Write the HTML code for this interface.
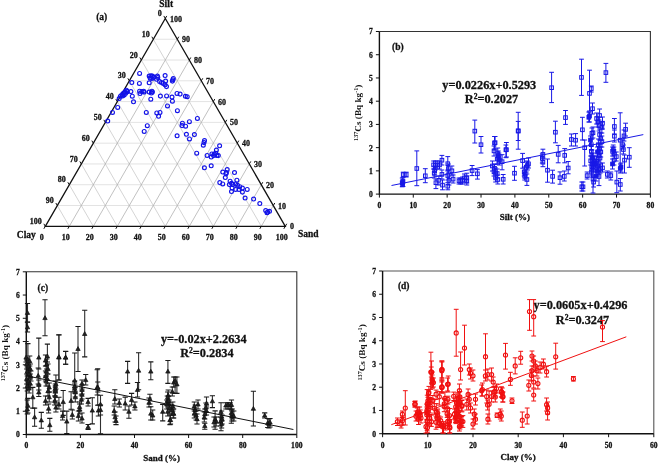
<!DOCTYPE html>
<html><head><meta charset="utf-8"><style>
html,body{margin:0;padding:0;background:#fff;width:658px;height:464px;overflow:hidden}
svg{display:block;filter:blur(0.3px)}
text{stroke:#111;stroke-width:0.28px}
</style></head><body>
<svg width="658" height="464" viewBox="0 0 658 464">
<rect width="658" height="464" fill="#fff"/>
<g stroke="#dadada" stroke-width="0.75">
<line x1="57.30" y1="205.52" x2="273.30" y2="205.52"/>
<line x1="69.30" y1="184.73" x2="261.30" y2="184.73"/>
<line x1="81.30" y1="163.95" x2="249.30" y2="163.95"/>
<line x1="93.30" y1="143.16" x2="237.30" y2="143.16"/>
<line x1="105.30" y1="122.38" x2="225.30" y2="122.38"/>
<line x1="117.30" y1="101.59" x2="213.30" y2="101.59"/>
<line x1="129.30" y1="80.81" x2="201.30" y2="80.81"/>
<line x1="141.30" y1="60.02" x2="189.30" y2="60.02"/>
<line x1="153.30" y1="39.24" x2="177.30" y2="39.24"/>
</g>
<g stroke="#c6c6c6" stroke-width="0.75">
<line x1="153.30" y1="39.24" x2="261.30" y2="226.30"/>
<line x1="141.30" y1="60.02" x2="237.30" y2="226.30"/>
<line x1="129.30" y1="80.81" x2="213.30" y2="226.30"/>
<line x1="117.30" y1="101.59" x2="189.30" y2="226.30"/>
<line x1="105.30" y1="122.38" x2="165.30" y2="226.30"/>
<line x1="93.30" y1="143.16" x2="141.30" y2="226.30"/>
<line x1="81.30" y1="163.95" x2="117.30" y2="226.30"/>
<line x1="69.30" y1="184.73" x2="93.30" y2="226.30"/>
<line x1="57.30" y1="205.52" x2="69.30" y2="226.30"/>
</g>
<g stroke="#acacac" stroke-width="0.75">
<line x1="69.30" y1="226.30" x2="177.30" y2="39.24"/>
<line x1="93.30" y1="226.30" x2="189.30" y2="60.02"/>
<line x1="117.30" y1="226.30" x2="201.30" y2="80.81"/>
<line x1="141.30" y1="226.30" x2="213.30" y2="101.59"/>
<line x1="165.30" y1="226.30" x2="225.30" y2="122.38"/>
<line x1="189.30" y1="226.30" x2="237.30" y2="143.16"/>
<line x1="213.30" y1="226.30" x2="249.30" y2="163.95"/>
<line x1="237.30" y1="226.30" x2="261.30" y2="184.73"/>
<line x1="261.30" y1="226.30" x2="273.30" y2="205.52"/>
</g>
<path d="M45.3,226.3 L285.3,226.3 L165.30,18.45 Z" fill="none" stroke="#111" stroke-width="1.3"/>
<g stroke="#111" stroke-width="1">
<line x1="45.30" y1="226.30" x2="43.85" y2="228.81"/>
<line x1="165.30" y1="18.45" x2="163.85" y2="15.94"/>
<line x1="285.30" y1="226.30" x2="286.75" y2="223.79"/>
<line x1="69.30" y1="226.30" x2="67.85" y2="228.81"/>
<line x1="153.30" y1="39.24" x2="151.85" y2="36.73"/>
<line x1="273.30" y1="205.52" x2="274.75" y2="203.00"/>
<line x1="93.30" y1="226.30" x2="91.85" y2="228.81"/>
<line x1="141.30" y1="60.02" x2="139.85" y2="57.51"/>
<line x1="261.30" y1="184.73" x2="262.75" y2="182.22"/>
<line x1="117.30" y1="226.30" x2="115.85" y2="228.81"/>
<line x1="129.30" y1="80.81" x2="127.85" y2="78.30"/>
<line x1="249.30" y1="163.95" x2="250.75" y2="161.43"/>
<line x1="141.30" y1="226.30" x2="139.85" y2="228.81"/>
<line x1="117.30" y1="101.59" x2="115.85" y2="99.08"/>
<line x1="237.30" y1="143.16" x2="238.75" y2="140.65"/>
<line x1="165.30" y1="226.30" x2="163.85" y2="228.81"/>
<line x1="105.30" y1="122.38" x2="103.85" y2="119.87"/>
<line x1="225.30" y1="122.38" x2="226.75" y2="119.87"/>
<line x1="189.30" y1="226.30" x2="187.85" y2="228.81"/>
<line x1="93.30" y1="143.16" x2="91.85" y2="140.65"/>
<line x1="213.30" y1="101.59" x2="214.75" y2="99.08"/>
<line x1="213.30" y1="226.30" x2="211.85" y2="228.81"/>
<line x1="81.30" y1="163.95" x2="79.85" y2="161.43"/>
<line x1="201.30" y1="80.81" x2="202.75" y2="78.30"/>
<line x1="237.30" y1="226.30" x2="235.85" y2="228.81"/>
<line x1="69.30" y1="184.73" x2="67.85" y2="182.22"/>
<line x1="189.30" y1="60.02" x2="190.75" y2="57.51"/>
<line x1="261.30" y1="226.30" x2="259.85" y2="228.81"/>
<line x1="57.30" y1="205.52" x2="55.85" y2="203.00"/>
<line x1="177.30" y1="39.24" x2="178.75" y2="36.73"/>
<line x1="285.30" y1="226.30" x2="283.85" y2="228.81"/>
<line x1="45.30" y1="226.30" x2="43.85" y2="223.79"/>
<line x1="165.30" y1="18.45" x2="166.75" y2="15.94"/>
</g>
<g font-family="'Liberation Serif', serif" font-weight="bold" font-size="8" fill="#111">
<text x="41.80" y="239.80" text-anchor="middle">0</text>
<text x="161.70" y="16.05" text-anchor="end">0</text>
<text x="290.10" y="229.40" text-anchor="start">0</text>
<text x="65.80" y="239.80" text-anchor="middle">10</text>
<text x="149.70" y="36.84" text-anchor="end">10</text>
<text x="278.10" y="208.62" text-anchor="start">10</text>
<text x="89.80" y="239.80" text-anchor="middle">20</text>
<text x="137.70" y="57.62" text-anchor="end">20</text>
<text x="266.10" y="187.83" text-anchor="start">20</text>
<text x="113.80" y="239.80" text-anchor="middle">30</text>
<text x="125.70" y="78.41" text-anchor="end">30</text>
<text x="254.10" y="167.05" text-anchor="start">30</text>
<text x="137.80" y="239.80" text-anchor="middle">40</text>
<text x="113.70" y="99.19" text-anchor="end">40</text>
<text x="242.10" y="146.26" text-anchor="start">40</text>
<text x="161.80" y="239.80" text-anchor="middle">50</text>
<text x="101.70" y="119.98" text-anchor="end">50</text>
<text x="230.10" y="125.48" text-anchor="start">50</text>
<text x="185.80" y="239.80" text-anchor="middle">60</text>
<text x="89.70" y="140.76" text-anchor="end">60</text>
<text x="218.10" y="104.69" text-anchor="start">60</text>
<text x="209.80" y="239.80" text-anchor="middle">70</text>
<text x="77.70" y="161.55" text-anchor="end">70</text>
<text x="206.10" y="83.91" text-anchor="start">70</text>
<text x="233.80" y="239.80" text-anchor="middle">80</text>
<text x="65.70" y="182.33" text-anchor="end">80</text>
<text x="194.10" y="63.12" text-anchor="start">80</text>
<text x="257.80" y="239.80" text-anchor="middle">90</text>
<text x="53.70" y="203.12" text-anchor="end">90</text>
<text x="182.10" y="42.34" text-anchor="start">90</text>
<text x="281.80" y="239.80" text-anchor="middle">100</text>
<text x="41.70" y="223.90" text-anchor="end">100</text>
<text x="170.10" y="21.55" text-anchor="start">100</text>
</g>
<g font-family="'Liberation Serif', serif" font-weight="bold" font-size="9.5" fill="#111">
<text x="166.2" y="7.2" text-anchor="middle">Silt</text>
<text x="16.8" y="238">Clay</text>
<text x="298" y="236.9">Sand</text>
</g>
<text x="96.2" y="19.6" font-family="'Liberation Serif', serif" font-weight="bold" font-size="9.5" fill="#111">(a)</text>
<g fill="none" stroke="#1212e8" stroke-width="1.15">
<circle cx="139.6" cy="73.4" r="1.95"/>
<circle cx="149.2" cy="76.1" r="1.95"/>
<circle cx="151" cy="75.7" r="1.95"/>
<circle cx="152.4" cy="76.1" r="1.95"/>
<circle cx="153.7" cy="77" r="1.95"/>
<circle cx="150.1" cy="78" r="1.95"/>
<circle cx="151.9" cy="78.4" r="1.95"/>
<circle cx="153.3" cy="77.5" r="1.95"/>
<circle cx="157.4" cy="76.1" r="1.95"/>
<circle cx="157.8" cy="77.5" r="1.95"/>
<circle cx="156.5" cy="79.3" r="1.95"/>
<circle cx="165.1" cy="75.5" r="1.95"/>
<circle cx="173.3" cy="78.4" r="1.95"/>
<circle cx="172.4" cy="81.1" r="1.95"/>
<circle cx="172.9" cy="79.8" r="1.95"/>
<circle cx="131.8" cy="82.5" r="1.95"/>
<circle cx="139.4" cy="83.4" r="1.95"/>
<circle cx="149.2" cy="82.8" r="1.95"/>
<circle cx="159.6" cy="81.6" r="1.95"/>
<circle cx="161.5" cy="82.5" r="1.95"/>
<circle cx="163.3" cy="83.4" r="1.95"/>
<circle cx="165.1" cy="84.8" r="1.95"/>
<circle cx="166.5" cy="86.6" r="1.95"/>
<circle cx="165.6" cy="81" r="1.95"/>
<circle cx="126.4" cy="90.2" r="1.95"/>
<circle cx="124.9" cy="92" r="1.95"/>
<circle cx="123.4" cy="93.2" r="1.95"/>
<circle cx="121.9" cy="94.7" r="1.95"/>
<circle cx="120.4" cy="96.2" r="1.95"/>
<circle cx="119.2" cy="98.5" r="1.95"/>
<circle cx="127.2" cy="91.7" r="1.95"/>
<circle cx="125.7" cy="93.2" r="1.95"/>
<circle cx="124.2" cy="95" r="1.95"/>
<circle cx="122.6" cy="95.9" r="1.95"/>
<circle cx="126.8" cy="91.2" r="1.95"/>
<circle cx="130.9" cy="91.6" r="1.95"/>
<circle cx="132.3" cy="96.2" r="1.95"/>
<circle cx="133.5" cy="101.8" r="1.95"/>
<circle cx="139.6" cy="91.2" r="1.95"/>
<circle cx="140" cy="93.5" r="1.95"/>
<circle cx="141.9" cy="91.6" r="1.95"/>
<circle cx="143.7" cy="91.2" r="1.95"/>
<circle cx="144.1" cy="92.1" r="1.95"/>
<circle cx="149.2" cy="92.1" r="1.95"/>
<circle cx="151.9" cy="91.2" r="1.95"/>
<circle cx="152.4" cy="92.1" r="1.95"/>
<circle cx="151.4" cy="93" r="1.95"/>
<circle cx="150.8" cy="99.2" r="1.95"/>
<circle cx="160.4" cy="96.1" r="1.95"/>
<circle cx="166.6" cy="95.9" r="1.95"/>
<circle cx="172" cy="97.1" r="1.95"/>
<circle cx="172.4" cy="101.2" r="1.95"/>
<circle cx="177" cy="93.4" r="1.95"/>
<circle cx="180.1" cy="94.1" r="1.95"/>
<circle cx="185.4" cy="96.3" r="1.95"/>
<circle cx="187.2" cy="96.7" r="1.95"/>
<circle cx="117.7" cy="107.4" r="1.95"/>
<circle cx="112.5" cy="112.4" r="1.95"/>
<circle cx="107.7" cy="121" r="1.95"/>
<circle cx="146.3" cy="112.4" r="1.95"/>
<circle cx="156.8" cy="112.9" r="1.95"/>
<circle cx="160" cy="112.4" r="1.95"/>
<circle cx="158.6" cy="116.3" r="1.95"/>
<circle cx="167.5" cy="105.9" r="1.95"/>
<circle cx="177.4" cy="110.7" r="1.95"/>
<circle cx="147.3" cy="125.7" r="1.95"/>
<circle cx="144.2" cy="131.4" r="1.95"/>
<circle cx="182.4" cy="123.2" r="1.95"/>
<circle cx="182" cy="125.6" r="1.95"/>
<circle cx="185.6" cy="126.2" r="1.95"/>
<circle cx="189.4" cy="121.7" r="1.95"/>
<circle cx="197.4" cy="118.4" r="1.95"/>
<circle cx="177.1" cy="135.8" r="1.95"/>
<circle cx="186.4" cy="134.3" r="1.95"/>
<circle cx="189.5" cy="138.9" r="1.95"/>
<circle cx="194.4" cy="134.6" r="1.95"/>
<circle cx="204.5" cy="140.6" r="1.95"/>
<circle cx="204" cy="142.6" r="1.95"/>
<circle cx="203.3" cy="145.2" r="1.95"/>
<circle cx="219.6" cy="145.8" r="1.95"/>
<circle cx="216.4" cy="150" r="1.95"/>
<circle cx="196.7" cy="153.2" r="1.95"/>
<circle cx="207.1" cy="155.4" r="1.95"/>
<circle cx="211.2" cy="157" r="1.95"/>
<circle cx="211.9" cy="153.9" r="1.95"/>
<circle cx="214.2" cy="154.1" r="1.95"/>
<circle cx="215.7" cy="153.3" r="1.95"/>
<circle cx="216.9" cy="155.4" r="1.95"/>
<circle cx="218.3" cy="155.6" r="1.95"/>
<circle cx="213.6" cy="155.6" r="1.95"/>
<circle cx="204.4" cy="167.8" r="1.95"/>
<circle cx="211.2" cy="165.8" r="1.95"/>
<circle cx="222.8" cy="172" r="1.95"/>
<circle cx="227.2" cy="169.5" r="1.95"/>
<circle cx="226.4" cy="172.5" r="1.95"/>
<circle cx="234.5" cy="172.5" r="1.95"/>
<circle cx="226" cy="173.8" r="1.95"/>
<circle cx="225.3" cy="177.5" r="1.95"/>
<circle cx="219.8" cy="182.6" r="1.95"/>
<circle cx="222.7" cy="183.9" r="1.95"/>
<circle cx="230.1" cy="181.2" r="1.95"/>
<circle cx="231.5" cy="183.3" r="1.95"/>
<circle cx="232.8" cy="184.6" r="1.95"/>
<circle cx="229.4" cy="184.6" r="1.95"/>
<circle cx="236.9" cy="180.2" r="1.95"/>
<circle cx="235.6" cy="183.9" r="1.95"/>
<circle cx="239.7" cy="186.7" r="1.95"/>
<circle cx="237.6" cy="185.3" r="1.95"/>
<circle cx="232.1" cy="188" r="1.95"/>
<circle cx="231.5" cy="191.5" r="1.95"/>
<circle cx="235.6" cy="189.4" r="1.95"/>
<circle cx="239" cy="189.4" r="1.95"/>
<circle cx="242.4" cy="188" r="1.95"/>
<circle cx="242.4" cy="192.1" r="1.95"/>
<circle cx="247.2" cy="189.4" r="1.95"/>
<circle cx="245.1" cy="198" r="1.95"/>
<circle cx="253.6" cy="199" r="1.95"/>
<circle cx="259.8" cy="203.5" r="1.95"/>
<circle cx="265.7" cy="210.6" r="1.95"/>
<circle cx="267.7" cy="212" r="1.95"/>
<circle cx="269.5" cy="211.3" r="1.95"/>
<circle cx="267" cy="212.7" r="1.95"/>
</g>
<path d="M379.4,31.5 L650.4,31.5 L650.4,194.1" fill="none" stroke="#333" stroke-width="1.1"/>
<path d="M379.4,31.5 L379.4,194.1 L650.4,194.1" fill="none" stroke="#111" stroke-width="1.4"/>
<g stroke="#111" stroke-width="1">
<line x1="375.9" y1="194.10" x2="379.4" y2="194.10"/>
<line x1="375.9" y1="170.87" x2="379.4" y2="170.87"/>
<line x1="375.9" y1="147.64" x2="379.4" y2="147.64"/>
<line x1="375.9" y1="124.41" x2="379.4" y2="124.41"/>
<line x1="375.9" y1="101.19" x2="379.4" y2="101.19"/>
<line x1="375.9" y1="77.96" x2="379.4" y2="77.96"/>
<line x1="375.9" y1="54.73" x2="379.4" y2="54.73"/>
<line x1="375.9" y1="31.50" x2="379.4" y2="31.50"/>
<line x1="379.40" y1="194.1" x2="379.40" y2="197.6"/>
<line x1="413.27" y1="194.1" x2="413.27" y2="197.6"/>
<line x1="447.15" y1="194.1" x2="447.15" y2="197.6"/>
<line x1="481.02" y1="194.1" x2="481.02" y2="197.6"/>
<line x1="514.90" y1="194.1" x2="514.90" y2="197.6"/>
<line x1="548.77" y1="194.1" x2="548.77" y2="197.6"/>
<line x1="582.65" y1="194.1" x2="582.65" y2="197.6"/>
<line x1="616.52" y1="194.1" x2="616.52" y2="197.6"/>
<line x1="650.40" y1="194.1" x2="650.40" y2="197.6"/>
</g>
<g font-family="'Liberation Serif', serif" font-weight="bold" font-size="7.6" fill="#111">
<text x="372.9" y="197.00" text-anchor="end">0</text>
<text x="372.9" y="173.77" text-anchor="end">1</text>
<text x="372.9" y="150.54" text-anchor="end">2</text>
<text x="372.9" y="127.31" text-anchor="end">3</text>
<text x="372.9" y="104.09" text-anchor="end">4</text>
<text x="372.9" y="80.86" text-anchor="end">5</text>
<text x="372.9" y="57.63" text-anchor="end">6</text>
<text x="372.9" y="34.40" text-anchor="end">7</text>
<text x="379.40" y="207.9" text-anchor="middle">0</text>
<text x="413.27" y="207.9" text-anchor="middle">10</text>
<text x="447.15" y="207.9" text-anchor="middle">20</text>
<text x="481.02" y="207.9" text-anchor="middle">30</text>
<text x="514.90" y="207.9" text-anchor="middle">40</text>
<text x="548.77" y="207.9" text-anchor="middle">50</text>
<text x="582.65" y="207.9" text-anchor="middle">60</text>
<text x="616.52" y="207.9" text-anchor="middle">70</text>
<text x="650.40" y="207.9" text-anchor="middle">80</text>
</g>
<text x="514.9" y="220.1" text-anchor="middle" font-family="'Liberation Serif', serif" font-weight="bold" font-size="9" fill="#111">Silt (%)</text>
<text transform="translate(361.3,112.8) rotate(-90)" text-anchor="middle" style="stroke:none" font-family="'Liberation Serif', serif" font-weight="bold" font-size="9.2" fill="#111"><tspan font-size="6.2" dy="-3.4">137</tspan><tspan dy="3.4">Cs (Bq kg</tspan><tspan font-size="6.2" dy="-3.4">-1</tspan><tspan dy="3.4">)</tspan></text>
<text x="392" y="49.5" font-family="'Liberation Serif', serif" font-weight="bold" font-size="9.5" fill="#111">(b)</text>
<text x="489.3" y="88.7" text-anchor="middle" font-family="'Liberation Serif', serif" font-weight="bold" font-size="12.3" fill="#111">y=0.0226x+0.5293</text>
<text x="491.5" y="103.3" text-anchor="middle" font-family="'Liberation Serif', serif" font-weight="bold" font-size="12.3" fill="#111">R<tspan font-size="7.6" dy="-4.3">2</tspan><tspan dy="4.3">=0.2027</tspan></text>
<g stroke="#1818e6" stroke-width="1" fill="none">
<path d="M403.2,172.2 V177.0 M400.8,172.2 h4.8 M400.8,177.0 h4.8"/>
<path d="M406.2,172.2 V177.0 M403.8,172.2 h4.8 M403.8,177.0 h4.8"/>
<path d="M402.2,178.0 V186.8 M399.8,178.0 h4.8 M399.8,186.8 h4.8"/>
<path d="M403.0,177.7 V186.5 M400.6,177.7 h4.8 M400.6,186.5 h4.8"/>
<path d="M402.6,180 V186.5 M400.20000000000005,180 h4.8 M400.20000000000005,186.5 h4.8"/>
<path d="M416.8,150.9 V185.7 M414.40000000000003,150.9 h4.8 M414.40000000000003,185.7 h4.8"/>
<path d="M425.3,168.7 V182.7 M422.90000000000003,168.7 h4.8 M422.90000000000003,182.7 h4.8"/>
<path d="M433.6,161 V169 M431.20000000000005,161 h4.8 M431.20000000000005,169 h4.8"/>
<path d="M435.3,161 V170 M432.90000000000003,161 h4.8 M432.90000000000003,170 h4.8"/>
<path d="M437.1,161 V169 M434.70000000000005,161 h4.8 M434.70000000000005,169 h4.8"/>
<path d="M439.5,161 V169 M437.1,161 h4.8 M437.1,169 h4.8"/>
<path d="M434.7,166 V175 M432.3,166 h4.8 M432.3,175 h4.8"/>
<path d="M434.2,169 V178 M431.8,169 h4.8 M431.8,178 h4.8"/>
<path d="M435.9,179.1 V188.6 M433.5,179.1 h4.8 M433.5,188.6 h4.8"/>
<path d="M438.9,176 V185 M436.5,176 h4.8 M436.5,185 h4.8"/>
<path d="M441.9,155.4 V165 M439.5,155.4 h4.8 M439.5,165 h4.8"/>
<path d="M441.9,170 V179 M439.5,170 h4.8 M439.5,179 h4.8"/>
<path d="M442.5,180 V189.8 M440.1,180 h4.8 M440.1,189.8 h4.8"/>
<path d="M447.8,156.6 V170 M445.40000000000003,156.6 h4.8 M445.40000000000003,170 h4.8"/>
<path d="M448.4,164 V173 M446.0,164 h4.8 M446.0,173 h4.8"/>
<path d="M447.8,171 V180 M445.40000000000003,171 h4.8 M445.40000000000003,180 h4.8"/>
<path d="M449,176 V185 M446.6,176 h4.8 M446.6,185 h4.8"/>
<path d="M447.8,182.7 V189.8 M445.40000000000003,182.7 h4.8 M445.40000000000003,189.8 h4.8"/>
<path d="M451.9,166 V175 M449.5,166 h4.8 M449.5,175 h4.8"/>
<path d="M453.1,175 V183 M450.70000000000005,175 h4.8 M450.70000000000005,183 h4.8"/>
<path d="M459,178 V184 M456.6,178 h4.8 M456.6,184 h4.8"/>
<path d="M460.8,178 V184 M458.40000000000003,178 h4.8 M458.40000000000003,184 h4.8"/>
<path d="M462.6,177 V184 M460.20000000000005,177 h4.8 M460.20000000000005,184 h4.8"/>
<path d="M464.4,174 V182 M462.0,174 h4.8 M462.0,182 h4.8"/>
<path d="M466.8,173.2 V183 M464.40000000000003,173.2 h4.8 M464.40000000000003,183 h4.8"/>
<path d="M466.8,176 V185 M464.40000000000003,176 h4.8 M464.40000000000003,185 h4.8"/>
<path d="M472.1,165.5 V175.6 M469.70000000000005,165.5 h4.8 M469.70000000000005,175.6 h4.8"/>
<path d="M477.4,169.6 V179.1 M475.0,169.6 h4.8 M475.0,179.1 h4.8"/>
<path d="M481,136.5 V153 M478.6,136.5 h4.8 M478.6,153 h4.8"/>
<path d="M474.8,120.1 V143 M472.40000000000003,120.1 h4.8 M472.40000000000003,143 h4.8"/>
<path d="M494.5,136.5 V150 M492.1,136.5 h4.8 M492.1,150 h4.8"/>
<path d="M495.1,136.5 V149 M492.70000000000005,136.5 h4.8 M492.70000000000005,149 h4.8"/>
<path d="M518.2,112.3 V149.2 M515.8000000000001,112.3 h4.8 M515.8000000000001,149.2 h4.8"/>
<path d="M518.2,121.4 V140.5 M515.8000000000001,121.4 h4.8 M515.8000000000001,140.5 h4.8"/>
<path d="M506.4,142.5 V157 M504.0,142.5 h4.8 M504.0,157 h4.8"/>
<path d="M494,146 V156 M491.6,146 h4.8 M491.6,156 h4.8"/>
<path d="M497.8,148 V158 M495.40000000000003,148 h4.8 M495.40000000000003,158 h4.8"/>
<path d="M498.3,151 V160 M495.90000000000003,151 h4.8 M495.90000000000003,160 h4.8"/>
<path d="M498.9,153 V162 M496.5,153 h4.8 M496.5,162 h4.8"/>
<path d="M497.2,154 V164 M494.8,154 h4.8 M494.8,164 h4.8"/>
<path d="M499.4,155 V165 M497.0,155 h4.8 M497.0,165 h4.8"/>
<path d="M492.4,161 V171 M490.0,161 h4.8 M490.0,171 h4.8"/>
<path d="M494.5,164 V173 M492.1,164 h4.8 M492.1,173 h4.8"/>
<path d="M494,167 V176 M491.6,167 h4.8 M491.6,176 h4.8"/>
<path d="M495.6,168 V178 M493.20000000000005,168 h4.8 M493.20000000000005,178 h4.8"/>
<path d="M497.2,169 V178 M494.8,169 h4.8 M494.8,178 h4.8"/>
<path d="M495.6,173 V182 M493.20000000000005,173 h4.8 M493.20000000000005,182 h4.8"/>
<path d="M497.8,175 V184 M495.40000000000003,175 h4.8 M495.40000000000003,184 h4.8"/>
<path d="M503.2,174.5 V184 M500.8,174.5 h4.8 M500.8,184 h4.8"/>
<path d="M502.1,154.7 V169.8 M499.70000000000005,154.7 h4.8 M499.70000000000005,169.8 h4.8"/>
<path d="M505.9,145 V157.7 M503.5,145 h4.8 M503.5,157.7 h4.8"/>
<path d="M514.5,166.3 V180.3 M512.1,166.3 h4.8 M512.1,180.3 h4.8"/>
<path d="M522.6,153.4 V168.2 M520.2,153.4 h4.8 M520.2,168.2 h4.8"/>
<path d="M527.4,161 V170 M525.0,161 h4.8 M525.0,170 h4.8"/>
<path d="M526.3,162 V172 M523.9,162 h4.8 M523.9,172 h4.8"/>
<path d="M528.5,158 V168 M526.1,158 h4.8 M526.1,168 h4.8"/>
<path d="M524.2,167 V176 M521.8000000000001,167 h4.8 M521.8000000000001,176 h4.8"/>
<path d="M525.2,170 V178 M522.8000000000001,170 h4.8 M522.8000000000001,178 h4.8"/>
<path d="M524.7,172 V180 M522.3000000000001,172 h4.8 M522.3000000000001,180 h4.8"/>
<path d="M526.9,174 V185.4 M524.5,174 h4.8 M524.5,185.4 h4.8"/>
<path d="M542.9,149.2 V158 M540.5,149.2 h4.8 M540.5,158 h4.8"/>
<path d="M542.3,154 V163 M539.9,154 h4.8 M539.9,163 h4.8"/>
<path d="M542.9,158 V166.7 M540.5,158 h4.8 M540.5,166.7 h4.8"/>
<path d="M547.5,159 V182.2 M545.1,159 h4.8 M545.1,182.2 h4.8"/>
<path d="M552.6,170.2 V183.1 M550.2,170.2 h4.8 M550.2,183.1 h4.8"/>
<path d="M558.2,145.4 V162.8 M555.8000000000001,145.4 h4.8 M555.8000000000001,162.8 h4.8"/>
<path d="M564.7,148.6 V162.8 M562.3000000000001,148.6 h4.8 M562.3000000000001,162.8 h4.8"/>
<path d="M560,171.9 V184.2 M557.6,171.9 h4.8 M557.6,184.2 h4.8"/>
<path d="M564.3,171 V181 M561.9,171 h4.8 M561.9,181 h4.8"/>
<path d="M568.2,161.5 V173.8 M565.8000000000001,161.5 h4.8 M565.8000000000001,173.8 h4.8"/>
<path d="M555.4,121.2 V142.8 M553.0,121.2 h4.8 M553.0,142.8 h4.8"/>
<path d="M571.4,134 V146 M569.0,134 h4.8 M569.0,146 h4.8"/>
<path d="M575.6,133.6 V146 M573.2,133.6 h4.8 M573.2,146 h4.8"/>
<path d="M581.8,182 V191 M579.4,182 h4.8 M579.4,191 h4.8"/>
<path d="M551.6,72.3 V102.6 M549.2,72.3 h4.8 M549.2,102.6 h4.8"/>
<path d="M581.5,59.2 V95.4 M579.1,59.2 h4.8 M579.1,95.4 h4.8"/>
<path d="M589.5,70.2 V111 M587.1,70.2 h4.8 M587.1,111 h4.8"/>
<path d="M591.3,86 V92 M588.9,86 h4.8 M588.9,92 h4.8"/>
<path d="M605.9,63.4 V82.3 M603.5,63.4 h4.8 M603.5,82.3 h4.8"/>
<path d="M592.5,103 V114 M590.1,103 h4.8 M590.1,114 h4.8"/>
<path d="M588.8,112 V122 M586.4,112 h4.8 M586.4,122 h4.8"/>
<path d="M589.5,112 V122 M587.1,112 h4.8 M587.1,122 h4.8"/>
<path d="M565.5,110.5 V124.4 M563.1,110.5 h4.8 M563.1,124.4 h4.8"/>
<path d="M582.4,117.3 V140 M580.0,117.3 h4.8 M580.0,140 h4.8"/>
<path d="M599.6,109 V122 M597.2,109 h4.8 M597.2,122 h4.8"/>
<path d="M596.6,113 V124 M594.2,113 h4.8 M594.2,124 h4.8"/>
<path d="M597.8,117 V127 M595.4,117 h4.8 M595.4,127 h4.8"/>
<path d="M599,120 V131 M596.6,120 h4.8 M596.6,131 h4.8"/>
<path d="M601.9,122 V133 M599.5,122 h4.8 M599.5,133 h4.8"/>
<path d="M602.5,117 V129 M600.1,117 h4.8 M600.1,129 h4.8"/>
<path d="M591.9,128 V139 M589.5,128 h4.8 M589.5,139 h4.8"/>
<path d="M593,127 V138 M590.6,127 h4.8 M590.6,138 h4.8"/>
<path d="M599.6,129 V140 M597.2,129 h4.8 M597.2,140 h4.8"/>
<path d="M600.8,133 V144 M598.4,133 h4.8 M598.4,144 h4.8"/>
<path d="M601.9,136 V147 M599.5,136 h4.8 M599.5,147 h4.8"/>
<path d="M614.4,118.5 V134 M612.0,118.5 h4.8 M612.0,134 h4.8"/>
<path d="M614.4,130 V142 M612.0,130 h4.8 M612.0,142 h4.8"/>
<path d="M620.2,112.8 V168 M617.8000000000001,112.8 h4.8 M617.8000000000001,168 h4.8"/>
<path d="M625.6,123.2 V136 M623.2,123.2 h4.8 M623.2,136 h4.8"/>
<path d="M624,130 V141 M621.6,130 h4.8 M621.6,141 h4.8"/>
<path d="M584.7,140 V166 M582.3000000000001,140 h4.8 M582.3000000000001,166 h4.8"/>
<path d="M591.3,139 V150 M588.9,139 h4.8 M588.9,150 h4.8"/>
<path d="M591.3,146 V156 M588.9,146 h4.8 M588.9,156 h4.8"/>
<path d="M591.9,150 V160 M589.5,150 h4.8 M589.5,160 h4.8"/>
<path d="M590.7,156 V165 M588.3000000000001,156 h4.8 M588.3000000000001,165 h4.8"/>
<path d="M591.9,159 V168 M589.5,159 h4.8 M589.5,168 h4.8"/>
<path d="M593,162 V172 M590.6,162 h4.8 M590.6,172 h4.8"/>
<path d="M591.9,166 V175 M589.5,166 h4.8 M589.5,175 h4.8"/>
<path d="M594.2,156 V166 M591.8000000000001,156 h4.8 M591.8000000000001,166 h4.8"/>
<path d="M595.4,159 V168 M593.0,159 h4.8 M593.0,168 h4.8"/>
<path d="M596.6,156 V166 M594.2,156 h4.8 M594.2,166 h4.8"/>
<path d="M597.8,161 V171 M595.4,161 h4.8 M595.4,171 h4.8"/>
<path d="M599,165 V174 M596.6,165 h4.8 M596.6,174 h4.8"/>
<path d="M600.2,164 V173 M597.8000000000001,164 h4.8 M597.8000000000001,173 h4.8"/>
<path d="M602.5,163 V172 M600.1,163 h4.8 M600.1,172 h4.8"/>
<path d="M598.4,139 V150 M596.0,139 h4.8 M596.0,150 h4.8"/>
<path d="M599.6,144 V154 M597.2,144 h4.8 M597.2,154 h4.8"/>
<path d="M600.8,147 V157 M598.4,147 h4.8 M598.4,157 h4.8"/>
<path d="M599,151 V161 M596.6,151 h4.8 M596.6,161 h4.8"/>
<path d="M587.1,172 V179 M584.7,172 h4.8 M584.7,179 h4.8"/>
<path d="M593,175 V193 M590.6,175 h4.8 M590.6,193 h4.8"/>
<path d="M593.6,177 V187 M591.2,177 h4.8 M591.2,187 h4.8"/>
<path d="M599,171 V185.6 M596.6,171 h4.8 M596.6,185.6 h4.8"/>
<path d="M583,182 V191 M580.6,182 h4.8 M580.6,191 h4.8"/>
<path d="M607.3,171 V178 M604.9,171 h4.8 M604.9,178 h4.8"/>
<path d="M610.8,172 V180 M608.4,172 h4.8 M608.4,180 h4.8"/>
<path d="M613.9,147 V156 M611.5,147 h4.8 M611.5,156 h4.8"/>
<path d="M612.6,147 V156 M610.2,147 h4.8 M610.2,156 h4.8"/>
<path d="M613.2,145 V154 M610.8000000000001,145 h4.8 M610.8000000000001,154 h4.8"/>
<path d="M616.3,152 V161 M613.9,152 h4.8 M613.9,161 h4.8"/>
<path d="M616.8,171 V192.7 M614.4,171 h4.8 M614.4,192.7 h4.8"/>
<path d="M620.3,178.5 V191 M617.9,178.5 h4.8 M617.9,191 h4.8"/>
<path d="M620.4,164 V173 M618.0,164 h4.8 M618.0,173 h4.8"/>
<path d="M621,163 V172 M618.6,163 h4.8 M618.6,172 h4.8"/>
<path d="M622.8,140 V149 M620.4,140 h4.8 M620.4,149 h4.8"/>
<path d="M623.4,145 V154 M621.0,145 h4.8 M621.0,154 h4.8"/>
<path d="M624.5,155 V173 M622.1,155 h4.8 M622.1,173 h4.8"/>
<path d="M629.3,147.7 V167.3 M626.9,147.7 h4.8 M626.9,167.3 h4.8"/>
<path d="M592.5,153 V163 M590.1,153 h4.8 M590.1,163 h4.8"/>
<path d="M593.5,159 V169 M591.1,159 h4.8 M591.1,169 h4.8"/>
<path d="M597,166 V176 M594.6,166 h4.8 M594.6,176 h4.8"/>
<path d="M591.5,167 V177 M589.1,167 h4.8 M589.1,177 h4.8"/>
<path d="M596,171 V181 M593.6,171 h4.8 M593.6,181 h4.8"/>
<path d="M600,153 V163 M597.6,153 h4.8 M597.6,163 h4.8"/>
<path d="M597.5,147 V157 M595.1,147 h4.8 M595.1,157 h4.8"/>
<path d="M590.5,136 V145 M588.1,136 h4.8 M588.1,145 h4.8"/>
<path d="M612.5,159 V169 M610.1,159 h4.8 M610.1,169 h4.8"/>
<path d="M614,155 V165 M611.6,155 h4.8 M611.6,165 h4.8"/>
</g>
<g stroke="#1818e6" stroke-width="1" fill="none">
<rect x="401.4" y="172.79999999999998" width="3.6" height="3.6" fill="none"/>
<rect x="404.4" y="172.79999999999998" width="3.6" height="3.6" fill="none"/>
<rect x="400.4" y="180.89999999999998" width="3.6" height="3.6" fill="#1818e6"/>
<rect x="401.2" y="179.7" width="3.6" height="3.6" fill="#1818e6"/>
<rect x="400.8" y="182.2" width="3.6" height="3.6" fill="#1818e6"/>
<rect x="415.0" y="166.7" width="3.6" height="3.6" fill="none"/>
<rect x="423.5" y="174.0" width="3.6" height="3.6" fill="none"/>
<rect x="431.8" y="163.1" width="3.6" height="3.6" fill="none"/>
<rect x="433.5" y="163.7" width="3.6" height="3.6" fill="none"/>
<rect x="435.3" y="163.1" width="3.6" height="3.6" fill="none"/>
<rect x="437.7" y="163.1" width="3.6" height="3.6" fill="none"/>
<rect x="432.9" y="169.0" width="3.6" height="3.6" fill="none"/>
<rect x="432.4" y="171.39999999999998" width="3.6" height="3.6" fill="none"/>
<rect x="434.09999999999997" y="180.89999999999998" width="3.6" height="3.6" fill="none"/>
<rect x="437.09999999999997" y="178.5" width="3.6" height="3.6" fill="none"/>
<rect x="440.09999999999997" y="158.39999999999998" width="3.6" height="3.6" fill="none"/>
<rect x="440.09999999999997" y="172.6" width="3.6" height="3.6" fill="none"/>
<rect x="440.7" y="183.29999999999998" width="3.6" height="3.6" fill="none"/>
<rect x="446.0" y="161.89999999999998" width="3.6" height="3.6" fill="none"/>
<rect x="446.59999999999997" y="166.7" width="3.6" height="3.6" fill="none"/>
<rect x="446.0" y="173.79999999999998" width="3.6" height="3.6" fill="none"/>
<rect x="447.2" y="178.5" width="3.6" height="3.6" fill="none"/>
<rect x="446.0" y="184.39999999999998" width="3.6" height="3.6" fill="none"/>
<rect x="450.09999999999997" y="169.0" width="3.6" height="3.6" fill="none"/>
<rect x="451.3" y="177.29999999999998" width="3.6" height="3.6" fill="none"/>
<rect x="457.2" y="179.1" width="3.6" height="3.6" fill="none"/>
<rect x="459.0" y="179.1" width="3.6" height="3.6" fill="none"/>
<rect x="460.8" y="178.5" width="3.6" height="3.6" fill="none"/>
<rect x="462.59999999999997" y="176.1" width="3.6" height="3.6" fill="none"/>
<rect x="465.0" y="176.1" width="3.6" height="3.6" fill="none"/>
<rect x="465.0" y="179.1" width="3.6" height="3.6" fill="none"/>
<rect x="470.3" y="168.79999999999998" width="3.6" height="3.6" fill="none"/>
<rect x="475.59999999999997" y="172.0" width="3.6" height="3.6" fill="none"/>
<rect x="479.2" y="142.89999999999998" width="3.6" height="3.6" fill="none"/>
<rect x="473.0" y="129.29999999999998" width="3.6" height="3.6" fill="none"/>
<rect x="492.7" y="141.2" width="3.6" height="3.6" fill="none"/>
<rect x="493.3" y="140.89999999999998" width="3.6" height="3.6" fill="none"/>
<rect x="516.4000000000001" y="129.1" width="3.6" height="3.6" fill="none"/>
<rect x="516.4000000000001" y="129.2" width="3.6" height="3.6" fill="none"/>
<rect x="504.59999999999997" y="147.89999999999998" width="3.6" height="3.6" fill="none"/>
<rect x="492.2" y="149.1" width="3.6" height="3.6" fill="none"/>
<rect x="496.0" y="151.79999999999998" width="3.6" height="3.6" fill="none"/>
<rect x="496.5" y="154.0" width="3.6" height="3.6" fill="none"/>
<rect x="497.09999999999997" y="156.1" width="3.6" height="3.6" fill="none"/>
<rect x="495.4" y="157.2" width="3.6" height="3.6" fill="none"/>
<rect x="497.59999999999997" y="158.29999999999998" width="3.6" height="3.6" fill="none"/>
<rect x="490.59999999999997" y="164.2" width="3.6" height="3.6" fill="none"/>
<rect x="492.7" y="166.39999999999998" width="3.6" height="3.6" fill="none"/>
<rect x="492.2" y="170.1" width="3.6" height="3.6" fill="none"/>
<rect x="493.8" y="171.2" width="3.6" height="3.6" fill="none"/>
<rect x="495.4" y="171.7" width="3.6" height="3.6" fill="none"/>
<rect x="493.8" y="176.1" width="3.6" height="3.6" fill="none"/>
<rect x="496.0" y="177.7" width="3.6" height="3.6" fill="none"/>
<rect x="501.4" y="177.5" width="3.6" height="3.6" fill="none"/>
<rect x="500.3" y="159.89999999999998" width="3.6" height="3.6" fill="none"/>
<rect x="504.09999999999997" y="148.0" width="3.6" height="3.6" fill="none"/>
<rect x="512.7" y="171.39999999999998" width="3.6" height="3.6" fill="none"/>
<rect x="520.8000000000001" y="158.79999999999998" width="3.6" height="3.6" fill="none"/>
<rect x="525.6" y="163.7" width="3.6" height="3.6" fill="none"/>
<rect x="524.5" y="165.29999999999998" width="3.6" height="3.6" fill="none"/>
<rect x="526.7" y="162.1" width="3.6" height="3.6" fill="none"/>
<rect x="522.4000000000001" y="170.1" width="3.6" height="3.6" fill="none"/>
<rect x="523.4000000000001" y="172.29999999999998" width="3.6" height="3.6" fill="none"/>
<rect x="522.9000000000001" y="174.39999999999998" width="3.6" height="3.6" fill="none"/>
<rect x="525.1" y="177.7" width="3.6" height="3.6" fill="none"/>
<rect x="541.1" y="152.6" width="3.6" height="3.6" fill="none"/>
<rect x="540.5" y="156.5" width="3.6" height="3.6" fill="none"/>
<rect x="541.1" y="160.39999999999998" width="3.6" height="3.6" fill="none"/>
<rect x="545.7" y="168.39999999999998" width="3.6" height="3.6" fill="none"/>
<rect x="550.8000000000001" y="174.6" width="3.6" height="3.6" fill="none"/>
<rect x="556.4000000000001" y="152.6" width="3.6" height="3.6" fill="none"/>
<rect x="562.9000000000001" y="153.6" width="3.6" height="3.6" fill="none"/>
<rect x="558.2" y="175.89999999999998" width="3.6" height="3.6" fill="none"/>
<rect x="562.5" y="174.6" width="3.6" height="3.6" fill="none"/>
<rect x="566.4000000000001" y="166.2" width="3.6" height="3.6" fill="none"/>
<rect x="553.6" y="130.39999999999998" width="3.6" height="3.6" fill="none"/>
<rect x="569.6" y="137.7" width="3.6" height="3.6" fill="none"/>
<rect x="573.8000000000001" y="138.39999999999998" width="3.6" height="3.6" fill="none"/>
<rect x="580.0" y="185.0" width="3.6" height="3.6" fill="none"/>
<rect x="549.8000000000001" y="85.9" width="3.6" height="3.6" fill="none"/>
<rect x="579.7" y="75.60000000000001" width="3.6" height="3.6" fill="none"/>
<rect x="587.7" y="91.60000000000001" width="3.6" height="3.6" fill="none"/>
<rect x="589.5" y="86.8" width="3.6" height="3.6" fill="none"/>
<rect x="604.1" y="70.8" width="3.6" height="3.6" fill="none"/>
<rect x="590.7" y="106.9" width="3.6" height="3.6" fill="none"/>
<rect x="587.0" y="115.5" width="3.6" height="3.6" fill="#1818e6"/>
<rect x="587.7" y="114.2" width="3.6" height="3.6" fill="#1818e6"/>
<rect x="563.7" y="115.8" width="3.6" height="3.6" fill="none"/>
<rect x="580.6" y="128.0" width="3.6" height="3.6" fill="none"/>
<rect x="597.8000000000001" y="113.7" width="3.6" height="3.6" fill="none"/>
<rect x="594.8000000000001" y="116.7" width="3.6" height="3.6" fill="none"/>
<rect x="596.0" y="120.2" width="3.6" height="3.6" fill="none"/>
<rect x="597.2" y="123.8" width="3.6" height="3.6" fill="none"/>
<rect x="600.1" y="125.60000000000001" width="3.6" height="3.6" fill="none"/>
<rect x="600.7" y="121.4" width="3.6" height="3.6" fill="none"/>
<rect x="590.1" y="131.5" width="3.6" height="3.6" fill="none"/>
<rect x="591.2" y="130.89999999999998" width="3.6" height="3.6" fill="none"/>
<rect x="597.8000000000001" y="132.7" width="3.6" height="3.6" fill="none"/>
<rect x="599.0" y="136.79999999999998" width="3.6" height="3.6" fill="none"/>
<rect x="600.1" y="139.79999999999998" width="3.6" height="3.6" fill="none"/>
<rect x="612.6" y="124.7" width="3.6" height="3.6" fill="none"/>
<rect x="612.6" y="134.39999999999998" width="3.6" height="3.6" fill="none"/>
<rect x="618.4000000000001" y="138.39999999999998" width="3.6" height="3.6" fill="none"/>
<rect x="623.8000000000001" y="127.60000000000001" width="3.6" height="3.6" fill="none"/>
<rect x="622.2" y="134.1" width="3.6" height="3.6" fill="none"/>
<rect x="582.9000000000001" y="145.89999999999998" width="3.6" height="3.6" fill="none"/>
<rect x="589.5" y="142.89999999999998" width="3.6" height="3.6" fill="none"/>
<rect x="589.5" y="149.5" width="3.6" height="3.6" fill="none"/>
<rect x="590.1" y="153.6" width="3.6" height="3.6" fill="none"/>
<rect x="588.9000000000001" y="159.0" width="3.6" height="3.6" fill="none"/>
<rect x="590.1" y="161.89999999999998" width="3.6" height="3.6" fill="none"/>
<rect x="591.2" y="165.5" width="3.6" height="3.6" fill="none"/>
<rect x="590.1" y="168.39999999999998" width="3.6" height="3.6" fill="none"/>
<rect x="592.4000000000001" y="159.5" width="3.6" height="3.6" fill="none"/>
<rect x="593.6" y="161.89999999999998" width="3.6" height="3.6" fill="none"/>
<rect x="594.8000000000001" y="159.5" width="3.6" height="3.6" fill="none"/>
<rect x="596.0" y="164.29999999999998" width="3.6" height="3.6" fill="none"/>
<rect x="597.2" y="167.79999999999998" width="3.6" height="3.6" fill="none"/>
<rect x="598.4000000000001" y="166.7" width="3.6" height="3.6" fill="none"/>
<rect x="600.7" y="166.1" width="3.6" height="3.6" fill="none"/>
<rect x="596.6" y="142.89999999999998" width="3.6" height="3.6" fill="none"/>
<rect x="597.8000000000001" y="147.1" width="3.6" height="3.6" fill="none"/>
<rect x="599.0" y="150.1" width="3.6" height="3.6" fill="none"/>
<rect x="597.2" y="154.2" width="3.6" height="3.6" fill="none"/>
<rect x="585.3000000000001" y="173.79999999999998" width="3.6" height="3.6" fill="none"/>
<rect x="591.2" y="177.29999999999998" width="3.6" height="3.6" fill="none"/>
<rect x="591.8000000000001" y="180.29999999999998" width="3.6" height="3.6" fill="none"/>
<rect x="597.2" y="174.7" width="3.6" height="3.6" fill="none"/>
<rect x="581.2" y="185.0" width="3.6" height="3.6" fill="none"/>
<rect x="605.5" y="172.6" width="3.6" height="3.6" fill="none"/>
<rect x="609.0" y="173.79999999999998" width="3.6" height="3.6" fill="none"/>
<rect x="612.1" y="149.5" width="3.6" height="3.6" fill="#1818e6"/>
<rect x="610.8000000000001" y="149.5" width="3.6" height="3.6" fill="none"/>
<rect x="611.4000000000001" y="147.7" width="3.6" height="3.6" fill="none"/>
<rect x="614.5" y="154.79999999999998" width="3.6" height="3.6" fill="none"/>
<rect x="615.0" y="180.29999999999998" width="3.6" height="3.6" fill="none"/>
<rect x="618.5" y="182.7" width="3.6" height="3.6" fill="none"/>
<rect x="618.6" y="166.6" width="3.6" height="3.6" fill="#1818e6"/>
<rect x="619.2" y="165.2" width="3.6" height="3.6" fill="#1818e6"/>
<rect x="621.0" y="142.89999999999998" width="3.6" height="3.6" fill="none"/>
<rect x="621.6" y="147.7" width="3.6" height="3.6" fill="none"/>
<rect x="622.7" y="158.29999999999998" width="3.6" height="3.6" fill="none"/>
<rect x="627.5" y="155.39999999999998" width="3.6" height="3.6" fill="none"/>
<rect x="590.7" y="156.2" width="3.6" height="3.6" fill="#1818e6"/>
<rect x="591.7" y="162.2" width="3.6" height="3.6" fill="#1818e6"/>
<rect x="595.2" y="169.2" width="3.6" height="3.6" fill="#1818e6"/>
<rect x="589.7" y="170.2" width="3.6" height="3.6" fill="none"/>
<rect x="594.2" y="174.2" width="3.6" height="3.6" fill="#1818e6"/>
<rect x="598.2" y="156.2" width="3.6" height="3.6" fill="none"/>
<rect x="595.7" y="150.2" width="3.6" height="3.6" fill="#1818e6"/>
<rect x="588.7" y="138.2" width="3.6" height="3.6" fill="#1818e6"/>
<rect x="610.7" y="162.2" width="3.6" height="3.6" fill="#1818e6"/>
<rect x="612.2" y="158.2" width="3.6" height="3.6" fill="none"/>
</g>
<line x1="391.5" y1="185.5" x2="643.3" y2="134.6" stroke="#1818e6" stroke-width="1"/>
<path d="M26.3,271.8 L296.8,271.8 L296.8,434.5" fill="none" stroke="#333" stroke-width="1.1"/>
<path d="M26.3,271.8 L26.3,434.5 L296.8,434.5" fill="none" stroke="#111" stroke-width="1.4"/>
<g stroke="#111" stroke-width="1">
<line x1="22.8" y1="434.50" x2="26.3" y2="434.50"/>
<line x1="22.8" y1="411.26" x2="26.3" y2="411.26"/>
<line x1="22.8" y1="388.01" x2="26.3" y2="388.01"/>
<line x1="22.8" y1="364.77" x2="26.3" y2="364.77"/>
<line x1="22.8" y1="341.53" x2="26.3" y2="341.53"/>
<line x1="22.8" y1="318.29" x2="26.3" y2="318.29"/>
<line x1="22.8" y1="295.04" x2="26.3" y2="295.04"/>
<line x1="22.8" y1="271.80" x2="26.3" y2="271.80"/>
<line x1="26.30" y1="434.5" x2="26.30" y2="438.0"/>
<line x1="80.40" y1="434.5" x2="80.40" y2="438.0"/>
<line x1="134.50" y1="434.5" x2="134.50" y2="438.0"/>
<line x1="188.60" y1="434.5" x2="188.60" y2="438.0"/>
<line x1="242.70" y1="434.5" x2="242.70" y2="438.0"/>
<line x1="296.80" y1="434.5" x2="296.80" y2="438.0"/>
</g>
<g font-family="'Liberation Serif', serif" font-weight="bold" font-size="7.6" fill="#111">
<text x="19.8" y="437.40" text-anchor="end">0</text>
<text x="19.8" y="414.16" text-anchor="end">1</text>
<text x="19.8" y="390.91" text-anchor="end">2</text>
<text x="19.8" y="367.67" text-anchor="end">3</text>
<text x="19.8" y="344.43" text-anchor="end">4</text>
<text x="19.8" y="321.19" text-anchor="end">5</text>
<text x="19.8" y="297.94" text-anchor="end">6</text>
<text x="19.8" y="274.70" text-anchor="end">7</text>
<text x="26.30" y="448.3" text-anchor="middle">0</text>
<text x="80.40" y="448.3" text-anchor="middle">20</text>
<text x="134.50" y="448.3" text-anchor="middle">40</text>
<text x="188.60" y="448.3" text-anchor="middle">60</text>
<text x="242.70" y="448.3" text-anchor="middle">80</text>
<text x="296.80" y="448.3" text-anchor="middle">100</text>
</g>
<text x="161.6" y="460.5" text-anchor="middle" font-family="'Liberation Serif', serif" font-weight="bold" font-size="9" fill="#111">Sand (%)</text>
<text transform="translate(8.2,353.1) rotate(-90)" text-anchor="middle" style="stroke:none" font-family="'Liberation Serif', serif" font-weight="bold" font-size="9.2" fill="#111"><tspan font-size="6.2" dy="-3.4">137</tspan><tspan dy="3.4">Cs (Bq kg</tspan><tspan font-size="6.2" dy="-3.4">-1</tspan><tspan dy="3.4">)</tspan></text>
<text x="37.6" y="291" font-family="'Liberation Serif', serif" font-weight="bold" font-size="9.5" fill="#111">(c)</text>
<text x="203.8" y="342.6" text-anchor="middle" font-family="'Liberation Serif', serif" font-weight="bold" font-size="12.3" fill="#111">y=-0.02x+2.2634</text>
<text x="206.9" y="356.8" text-anchor="middle" font-family="'Liberation Serif', serif" font-weight="bold" font-size="12.3" fill="#111">R<tspan font-size="7.6" dy="-4.3">2</tspan><tspan dy="4.3">=0.2834</tspan></text>
<g stroke="#303030" stroke-width="1.1" fill="none">
<path d="M27.5,303.5 V322"/>
<path d="M27.5,322.3 V332"/>
<path d="M45,299.7 V335.8"/>
<path d="M84.7,310.3 V356.9"/>
<path d="M78,326.5 V371.5"/>
<path d="M58.9,334.7 V380"/>
<path d="M65.6,351.5 V364.2"/>
<path d="M26.1,341.5 V362"/>
<path d="M27.9,343.6 V364"/>
<path d="M29.7,356 V366"/>
<path d="M26.7,360 V369"/>
<path d="M28.5,362 V371"/>
<path d="M30.3,364 V374"/>
<path d="M27.3,367 V376"/>
<path d="M29.1,369 V379"/>
<path d="M30.9,371 V381"/>
<path d="M26.7,374 V384"/>
<path d="M28.5,376 V386"/>
<path d="M30.3,379 V388"/>
<path d="M27.3,381 V391"/>
<path d="M29.1,384 V393"/>
<path d="M38.8,338.1 V369"/>
<path d="M38.2,368 V384"/>
<path d="M38.8,380 V390"/>
<path d="M47.4,344.1 V362"/>
<path d="M45.5,355 V366"/>
<path d="M46.7,359 V369"/>
<path d="M48,364 V374"/>
<path d="M46.1,366 V376"/>
<path d="M45.5,371 V381"/>
<path d="M47.4,374 V384"/>
<path d="M46.1,376 V386"/>
<path d="M58.9,335 V380"/>
<path d="M65.6,351.4 V364.2"/>
<path d="M74.7,353 V388"/>
<path d="M74.7,384 V393"/>
<path d="M82,380 V388"/>
<path d="M85.7,374.5 V385"/>
<path d="M55.9,375 V389"/>
<path d="M55.3,384 V393"/>
<path d="M97.2,369.7 V395"/>
<path d="M27.9,398.4 V413"/>
<path d="M27.3,400 V414"/>
<path d="M32.8,387.4 V408.1"/>
<path d="M38.8,385 V396.5"/>
<path d="M34.6,408.1 V426.3"/>
<path d="M41.3,412.4 V428.2"/>
<path d="M49.8,418.4 V431.2"/>
<path d="M45.5,396 V405"/>
<path d="M48.6,404 V413"/>
<path d="M49.2,392 V402"/>
<path d="M48,386 V396"/>
<path d="M49.2,383 V392"/>
<path d="M55.3,381 V391"/>
<path d="M55.3,386 V396"/>
<path d="M55.3,391 V401"/>
<path d="M54.7,396 V405"/>
<path d="M55.9,403 V412"/>
<path d="M58.9,397.2 V409"/>
<path d="M62.6,411.1 V420"/>
<path d="M63.2,390.5 V415.4"/>
<path d="M66.8,411.1 V433.6"/>
<path d="M71.1,391.7 V409.3"/>
<path d="M72.3,410 V419"/>
<path d="M75.3,392 V402"/>
<path d="M75.3,387 V397"/>
<path d="M74.7,381 V391"/>
<path d="M79.6,404 V414"/>
<path d="M78.4,411 V421"/>
<path d="M82,413 V423"/>
<path d="M79.6,402 V411"/>
<path d="M82,385 V394"/>
<path d="M82,390 V399"/>
<path d="M81.4,395 V404"/>
<path d="M88.1,398.4 V406"/>
<path d="M88.1,424.5 V429.4"/>
<path d="M92.3,397.8 V423.9"/>
<path d="M97.8,382 V392"/>
<path d="M98.4,405 V416"/>
<path d="M97.7,368.7 V405.3"/>
<path d="M100.5,395.3 V433.7"/>
<path d="M100.5,405 V415"/>
<path d="M127.6,361.4 V383.4"/>
<path d="M138.6,352.8 V389.8"/>
<path d="M137.5,382.5 V397"/>
<path d="M150.8,361.9 V379.7"/>
<path d="M149.9,394.3 V404"/>
<path d="M149,398 V407"/>
<path d="M150.8,406.7 V420"/>
<path d="M152.7,410 V420"/>
<path d="M167.9,360.5 V383.4"/>
<path d="M114.8,389.8 V404"/>
<path d="M114.2,406 V415"/>
<path d="M115.1,412 V422"/>
<path d="M116,416 V424.6"/>
<path d="M119.3,399 V407"/>
<path d="M125.2,397.1 V410"/>
<path d="M128.9,406 V418.2"/>
<path d="M131.6,393.4 V405"/>
<path d="M134.9,402 V410"/>
<path d="M162.7,404.4 V420.9"/>
<path d="M167.3,396 V405"/>
<path d="M169.1,400 V409"/>
<path d="M168.2,390 V400"/>
<path d="M170,415 V424.6"/>
<path d="M171.9,405 V414"/>
<path d="M173.7,409 V418"/>
<path d="M172.8,402 V411"/>
<path d="M173.7,377 V387"/>
<path d="M175.1,377 V393.4"/>
<path d="M176.9,377 V393.4"/>
<path d="M167.7,392 V402"/>
<path d="M168.7,396 V405"/>
<path d="M166.8,400 V409"/>
<path d="M169.6,403 V413"/>
<path d="M167.7,407 V416"/>
<path d="M172.3,387 V396"/>
<path d="M173.2,409 V418"/>
<path d="M170.5,415 V424"/>
<path d="M194.3,402 V411"/>
<path d="M195.2,405 V414"/>
<path d="M196.1,411 V420"/>
<path d="M197,414 V424"/>
<path d="M198,400 V409"/>
<path d="M194.3,409 V418"/>
<path d="M206.5,397 V408"/>
<path d="M205.9,403 V412"/>
<path d="M206.5,406 V415"/>
<path d="M204.8,409 V419"/>
<path d="M204.3,412 V422"/>
<path d="M204.8,423.2 V429.2"/>
<path d="M212.4,395.8 V407.6"/>
<path d="M215.1,410.9 V429.2"/>
<path d="M216.2,417 V426"/>
<path d="M214,417 V427"/>
<path d="M221,402.8 V430.8"/>
<path d="M221.6,411 V421"/>
<path d="M222.1,415 V424"/>
<path d="M220.5,417 V426"/>
<path d="M221.6,419 V428"/>
<path d="M225.9,402.8 V409"/>
<path d="M228,402.8 V409"/>
<path d="M230.2,402.8 V409"/>
<path d="M231.3,409.2 V423.3"/>
<path d="M231.8,411 V421"/>
<path d="M232.3,409 V419"/>
<path d="M233.8,411 V421"/>
<path d="M231.5,400 V410"/>
<path d="M253.4,391.3 V426"/>
<path d="M264.7,412.9 V418"/>
<path d="M267.7,418.5 V427.5"/>
<path d="M268.9,419 V428"/>
<path d="M270,418.5 V427"/>
</g>
<g stroke="#1a1a1a" stroke-width="1.1" fill="none">
<path d="M24.9,303.5 h5.2 M24.9,322 h5.2"/>
<path d="M24.9,322.3 h5.2 M24.9,332 h5.2"/>
<path d="M42.4,299.7 h5.2 M42.4,335.8 h5.2"/>
<path d="M82.10000000000001,310.3 h5.2 M82.10000000000001,356.9 h5.2"/>
<path d="M75.4,326.5 h5.2 M75.4,371.5 h5.2"/>
<path d="M56.3,334.7 h5.2 M56.3,380 h5.2"/>
<path d="M62.99999999999999,351.5 h5.2 M62.99999999999999,364.2 h5.2"/>
<path d="M23.5,341.5 h5.2 M23.5,362 h5.2"/>
<path d="M25.299999999999997,343.6 h5.2 M25.299999999999997,364 h5.2"/>
<path d="M27.099999999999998,356 h5.2 M27.099999999999998,366 h5.2"/>
<path d="M24.099999999999998,360 h5.2 M24.099999999999998,369 h5.2"/>
<path d="M25.9,362 h5.2 M25.9,371 h5.2"/>
<path d="M27.7,364 h5.2 M27.7,374 h5.2"/>
<path d="M24.7,367 h5.2 M24.7,376 h5.2"/>
<path d="M26.5,369 h5.2 M26.5,379 h5.2"/>
<path d="M28.299999999999997,371 h5.2 M28.299999999999997,381 h5.2"/>
<path d="M24.099999999999998,374 h5.2 M24.099999999999998,384 h5.2"/>
<path d="M25.9,376 h5.2 M25.9,386 h5.2"/>
<path d="M27.7,379 h5.2 M27.7,388 h5.2"/>
<path d="M24.7,381 h5.2 M24.7,391 h5.2"/>
<path d="M26.5,384 h5.2 M26.5,393 h5.2"/>
<path d="M36.199999999999996,338.1 h5.2 M36.199999999999996,369 h5.2"/>
<path d="M35.6,368 h5.2 M35.6,384 h5.2"/>
<path d="M36.199999999999996,380 h5.2 M36.199999999999996,390 h5.2"/>
<path d="M44.8,344.1 h5.2 M44.8,362 h5.2"/>
<path d="M42.9,355 h5.2 M42.9,366 h5.2"/>
<path d="M44.1,359 h5.2 M44.1,369 h5.2"/>
<path d="M45.4,364 h5.2 M45.4,374 h5.2"/>
<path d="M43.5,366 h5.2 M43.5,376 h5.2"/>
<path d="M42.9,371 h5.2 M42.9,381 h5.2"/>
<path d="M44.8,374 h5.2 M44.8,384 h5.2"/>
<path d="M43.5,376 h5.2 M43.5,386 h5.2"/>
<path d="M56.3,335 h5.2 M56.3,380 h5.2"/>
<path d="M62.99999999999999,351.4 h5.2 M62.99999999999999,364.2 h5.2"/>
<path d="M72.10000000000001,353 h5.2 M72.10000000000001,388 h5.2"/>
<path d="M72.10000000000001,384 h5.2 M72.10000000000001,393 h5.2"/>
<path d="M79.4,380 h5.2 M79.4,388 h5.2"/>
<path d="M83.10000000000001,374.5 h5.2 M83.10000000000001,385 h5.2"/>
<path d="M53.3,375 h5.2 M53.3,389 h5.2"/>
<path d="M52.699999999999996,384 h5.2 M52.699999999999996,393 h5.2"/>
<path d="M94.60000000000001,369.7 h5.2 M94.60000000000001,395 h5.2"/>
<path d="M25.299999999999997,398.4 h5.2 M25.299999999999997,413 h5.2"/>
<path d="M24.7,400 h5.2 M24.7,414 h5.2"/>
<path d="M30.199999999999996,387.4 h5.2 M30.199999999999996,408.1 h5.2"/>
<path d="M36.199999999999996,385 h5.2 M36.199999999999996,396.5 h5.2"/>
<path d="M32.0,408.1 h5.2 M32.0,426.3 h5.2"/>
<path d="M38.699999999999996,412.4 h5.2 M38.699999999999996,428.2 h5.2"/>
<path d="M47.199999999999996,418.4 h5.2 M47.199999999999996,431.2 h5.2"/>
<path d="M42.9,396 h5.2 M42.9,405 h5.2"/>
<path d="M46.0,404 h5.2 M46.0,413 h5.2"/>
<path d="M46.6,392 h5.2 M46.6,402 h5.2"/>
<path d="M45.4,386 h5.2 M45.4,396 h5.2"/>
<path d="M46.6,383 h5.2 M46.6,392 h5.2"/>
<path d="M52.699999999999996,381 h5.2 M52.699999999999996,391 h5.2"/>
<path d="M52.699999999999996,386 h5.2 M52.699999999999996,396 h5.2"/>
<path d="M52.699999999999996,391 h5.2 M52.699999999999996,401 h5.2"/>
<path d="M52.1,396 h5.2 M52.1,405 h5.2"/>
<path d="M53.3,403 h5.2 M53.3,412 h5.2"/>
<path d="M56.3,397.2 h5.2 M56.3,409 h5.2"/>
<path d="M60.0,411.1 h5.2 M60.0,420 h5.2"/>
<path d="M60.6,390.5 h5.2 M60.6,415.4 h5.2"/>
<path d="M64.2,411.1 h5.2 M64.2,433.6 h5.2"/>
<path d="M68.5,391.7 h5.2 M68.5,409.3 h5.2"/>
<path d="M69.7,410 h5.2 M69.7,419 h5.2"/>
<path d="M72.7,392 h5.2 M72.7,402 h5.2"/>
<path d="M72.7,387 h5.2 M72.7,397 h5.2"/>
<path d="M72.10000000000001,381 h5.2 M72.10000000000001,391 h5.2"/>
<path d="M77.0,404 h5.2 M77.0,414 h5.2"/>
<path d="M75.80000000000001,411 h5.2 M75.80000000000001,421 h5.2"/>
<path d="M79.4,413 h5.2 M79.4,423 h5.2"/>
<path d="M77.0,402 h5.2 M77.0,411 h5.2"/>
<path d="M79.4,385 h5.2 M79.4,394 h5.2"/>
<path d="M79.4,390 h5.2 M79.4,399 h5.2"/>
<path d="M78.80000000000001,395 h5.2 M78.80000000000001,404 h5.2"/>
<path d="M85.5,398.4 h5.2 M85.5,406 h5.2"/>
<path d="M85.5,424.5 h5.2 M85.5,429.4 h5.2"/>
<path d="M89.7,397.8 h5.2 M89.7,423.9 h5.2"/>
<path d="M95.2,382 h5.2 M95.2,392 h5.2"/>
<path d="M95.80000000000001,405 h5.2 M95.80000000000001,416 h5.2"/>
<path d="M95.10000000000001,368.7 h5.2 M95.10000000000001,405.3 h5.2"/>
<path d="M97.9,395.3 h5.2 M97.9,433.7 h5.2"/>
<path d="M97.9,405 h5.2 M97.9,415 h5.2"/>
<path d="M125.0,361.4 h5.2 M125.0,383.4 h5.2"/>
<path d="M136.0,352.8 h5.2 M136.0,389.8 h5.2"/>
<path d="M134.9,382.5 h5.2 M134.9,397 h5.2"/>
<path d="M148.20000000000002,361.9 h5.2 M148.20000000000002,379.7 h5.2"/>
<path d="M147.3,394.3 h5.2 M147.3,404 h5.2"/>
<path d="M146.4,398 h5.2 M146.4,407 h5.2"/>
<path d="M148.20000000000002,406.7 h5.2 M148.20000000000002,420 h5.2"/>
<path d="M150.1,410 h5.2 M150.1,420 h5.2"/>
<path d="M165.3,360.5 h5.2 M165.3,383.4 h5.2"/>
<path d="M112.2,389.8 h5.2 M112.2,404 h5.2"/>
<path d="M111.60000000000001,406 h5.2 M111.60000000000001,415 h5.2"/>
<path d="M112.5,412 h5.2 M112.5,422 h5.2"/>
<path d="M113.4,416 h5.2 M113.4,424.6 h5.2"/>
<path d="M116.7,399 h5.2 M116.7,407 h5.2"/>
<path d="M122.60000000000001,397.1 h5.2 M122.60000000000001,410 h5.2"/>
<path d="M126.30000000000001,406 h5.2 M126.30000000000001,418.2 h5.2"/>
<path d="M129.0,393.4 h5.2 M129.0,405 h5.2"/>
<path d="M132.3,402 h5.2 M132.3,410 h5.2"/>
<path d="M160.1,404.4 h5.2 M160.1,420.9 h5.2"/>
<path d="M164.70000000000002,396 h5.2 M164.70000000000002,405 h5.2"/>
<path d="M166.5,400 h5.2 M166.5,409 h5.2"/>
<path d="M165.6,390 h5.2 M165.6,400 h5.2"/>
<path d="M167.4,415 h5.2 M167.4,424.6 h5.2"/>
<path d="M169.3,405 h5.2 M169.3,414 h5.2"/>
<path d="M171.1,409 h5.2 M171.1,418 h5.2"/>
<path d="M170.20000000000002,402 h5.2 M170.20000000000002,411 h5.2"/>
<path d="M171.1,377 h5.2 M171.1,387 h5.2"/>
<path d="M172.5,377 h5.2 M172.5,393.4 h5.2"/>
<path d="M174.3,377 h5.2 M174.3,393.4 h5.2"/>
<path d="M165.1,392 h5.2 M165.1,402 h5.2"/>
<path d="M166.1,396 h5.2 M166.1,405 h5.2"/>
<path d="M164.20000000000002,400 h5.2 M164.20000000000002,409 h5.2"/>
<path d="M167.0,403 h5.2 M167.0,413 h5.2"/>
<path d="M165.1,407 h5.2 M165.1,416 h5.2"/>
<path d="M169.70000000000002,387 h5.2 M169.70000000000002,396 h5.2"/>
<path d="M170.6,409 h5.2 M170.6,418 h5.2"/>
<path d="M167.9,415 h5.2 M167.9,424 h5.2"/>
<path d="M191.70000000000002,402 h5.2 M191.70000000000002,411 h5.2"/>
<path d="M192.6,405 h5.2 M192.6,414 h5.2"/>
<path d="M193.5,411 h5.2 M193.5,420 h5.2"/>
<path d="M194.4,414 h5.2 M194.4,424 h5.2"/>
<path d="M195.4,400 h5.2 M195.4,409 h5.2"/>
<path d="M191.70000000000002,409 h5.2 M191.70000000000002,418 h5.2"/>
<path d="M203.9,397 h5.2 M203.9,408 h5.2"/>
<path d="M203.3,403 h5.2 M203.3,412 h5.2"/>
<path d="M203.9,406 h5.2 M203.9,415 h5.2"/>
<path d="M202.20000000000002,409 h5.2 M202.20000000000002,419 h5.2"/>
<path d="M201.70000000000002,412 h5.2 M201.70000000000002,422 h5.2"/>
<path d="M202.20000000000002,423.2 h5.2 M202.20000000000002,429.2 h5.2"/>
<path d="M209.8,395.8 h5.2 M209.8,407.6 h5.2"/>
<path d="M212.5,410.9 h5.2 M212.5,429.2 h5.2"/>
<path d="M213.6,417 h5.2 M213.6,426 h5.2"/>
<path d="M211.4,417 h5.2 M211.4,427 h5.2"/>
<path d="M218.4,402.8 h5.2 M218.4,430.8 h5.2"/>
<path d="M219.0,411 h5.2 M219.0,421 h5.2"/>
<path d="M219.5,415 h5.2 M219.5,424 h5.2"/>
<path d="M217.9,417 h5.2 M217.9,426 h5.2"/>
<path d="M219.0,419 h5.2 M219.0,428 h5.2"/>
<path d="M223.3,402.8 h5.2 M223.3,409 h5.2"/>
<path d="M225.4,402.8 h5.2 M225.4,409 h5.2"/>
<path d="M227.6,402.8 h5.2 M227.6,409 h5.2"/>
<path d="M228.70000000000002,409.2 h5.2 M228.70000000000002,423.3 h5.2"/>
<path d="M229.20000000000002,411 h5.2 M229.20000000000002,421 h5.2"/>
<path d="M229.70000000000002,409 h5.2 M229.70000000000002,419 h5.2"/>
<path d="M231.20000000000002,411 h5.2 M231.20000000000002,421 h5.2"/>
<path d="M228.9,400 h5.2 M228.9,410 h5.2"/>
<path d="M250.8,391.3 h5.2 M250.8,426 h5.2"/>
<path d="M262.09999999999997,412.9 h5.2 M262.09999999999997,418 h5.2"/>
<path d="M265.09999999999997,418.5 h5.2 M265.09999999999997,427.5 h5.2"/>
<path d="M266.29999999999995,419 h5.2 M266.29999999999995,428 h5.2"/>
<path d="M267.4,418.5 h5.2 M267.4,427 h5.2"/>
</g>
<g stroke="#111" stroke-width="1" fill="none">
<path d="M27.5,310.5 L29.7,314.40000000000003 L25.3,314.40000000000003 Z" fill="#222" stroke-width="0.7"/>
<path d="M27.5,324.9 L29.7,328.8 L25.3,328.8 Z" fill="#222" stroke-width="0.7"/>
<path d="M45,315.7 L47.2,319.6 L42.8,319.6 Z" fill="#222" stroke-width="0.7"/>
<path d="M84.7,331.59999999999997 L86.9,335.5 L82.5,335.5 Z" fill="#222" stroke-width="0.7"/>
<path d="M78,346.59999999999997 L80.2,350.5 L75.8,350.5 Z" fill="#222" stroke-width="0.7"/>
<path d="M58.9,355.2 L61.1,359.1 L56.699999999999996,359.1 Z" fill="#222" stroke-width="0.7"/>
<path d="M65.6,355.2 L67.8,359.1 L63.39999999999999,359.1 Z" fill="#222" stroke-width="0.7"/>
<path d="M26.1,355.2 L28.3,359.1 L23.900000000000002,359.1 Z" fill="#222" stroke-width="0.7"/>
<path d="M27.9,357.0 L30.099999999999998,360.90000000000003 L25.7,360.90000000000003 Z" fill="#222" stroke-width="0.7"/>
<path d="M29.7,358.8 L31.9,362.70000000000005 L27.5,362.70000000000005 Z" fill="#222" stroke-width="0.7"/>
<path d="M26.7,361.9 L28.9,365.8 L24.5,365.8 Z" fill="#222" stroke-width="0.7"/>
<path d="M28.5,364.3 L30.7,368.20000000000005 L26.3,368.20000000000005 Z" fill="#222" stroke-width="0.7"/>
<path d="M30.3,366.7 L32.5,370.6 L28.1,370.6 Z" fill="#222" stroke-width="0.7"/>
<path d="M27.3,369.2 L29.5,373.1 L25.1,373.1 Z" fill="#222" stroke-width="0.7"/>
<path d="M29.1,371.59999999999997 L31.3,375.5 L26.900000000000002,375.5 Z" fill="#222" stroke-width="0.7"/>
<path d="M30.9,374.0 L33.1,377.90000000000003 L28.7,377.90000000000003 Z" fill="#222" stroke-width="0.7"/>
<path d="M26.7,376.5 L28.9,380.40000000000003 L24.5,380.40000000000003 Z" fill="#222" stroke-width="0.7"/>
<path d="M28.5,378.9 L30.7,382.8 L26.3,382.8 Z" fill="#222" stroke-width="0.7"/>
<path d="M30.3,381.3 L32.5,385.20000000000005 L28.1,385.20000000000005 Z" fill="#222" stroke-width="0.7"/>
<path d="M27.3,383.8 L29.5,387.70000000000005 L25.1,387.70000000000005 Z" fill="#222" stroke-width="0.7"/>
<path d="M29.1,386.2 L31.3,390.1 L26.900000000000002,390.1 Z" fill="#222" stroke-width="0.7"/>
<path d="M38.8,355.2 L41.0,359.1 L36.599999999999994,359.1 Z" fill="#222" stroke-width="0.7"/>
<path d="M38.2,373.4 L40.400000000000006,377.3 L36.0,377.3 Z" fill="#222" stroke-width="0.7"/>
<path d="M38.8,382.5 L41.0,386.40000000000003 L36.599999999999994,386.40000000000003 Z" fill="#222" stroke-width="0.7"/>
<path d="M47.4,354.0 L49.6,357.90000000000003 L45.199999999999996,357.90000000000003 Z" fill="#222" stroke-width="0.7"/>
<path d="M45.5,358.2 L47.7,362.1 L43.3,362.1 Z" fill="#222" stroke-width="0.7"/>
<path d="M46.7,361.9 L48.900000000000006,365.8 L44.5,365.8 Z" fill="#222" stroke-width="0.7"/>
<path d="M48,366.7 L50.2,370.6 L45.8,370.6 Z" fill="#222" stroke-width="0.7"/>
<path d="M46.1,369.2 L48.300000000000004,373.1 L43.9,373.1 Z" fill="#222" stroke-width="0.7"/>
<path d="M45.5,374.0 L47.7,377.90000000000003 L43.3,377.90000000000003 Z" fill="#222" stroke-width="0.7"/>
<path d="M47.4,376.5 L49.6,380.40000000000003 L45.199999999999996,380.40000000000003 Z" fill="#222" stroke-width="0.7"/>
<path d="M46.1,378.9 L48.300000000000004,382.8 L43.9,382.8 Z" fill="#222" stroke-width="0.7"/>
<path d="M58.9,354.59999999999997 L61.1,358.5 L56.699999999999996,358.5 Z" fill="#222" stroke-width="0.7"/>
<path d="M65.6,355.2 L67.8,359.1 L63.39999999999999,359.1 Z" fill="#222" stroke-width="0.7"/>
<path d="M74.7,378.3 L76.9,382.20000000000005 L72.5,382.20000000000005 Z" fill="#222" stroke-width="0.7"/>
<path d="M74.7,386.2 L76.9,390.1 L72.5,390.1 Z" fill="#222" stroke-width="0.7"/>
<path d="M82,381.3 L84.2,385.20000000000005 L79.8,385.20000000000005 Z" fill="#222" stroke-width="0.7"/>
<path d="M85.7,377.7 L87.9,381.6 L83.5,381.6 Z" fill="#222" stroke-width="0.7"/>
<path d="M55.9,381.9 L58.1,385.8 L53.699999999999996,385.8 Z" fill="#222" stroke-width="0.7"/>
<path d="M55.3,386.2 L57.5,390.1 L53.099999999999994,390.1 Z" fill="#222" stroke-width="0.7"/>
<path d="M97.2,385.0 L99.4,388.90000000000003 L95.0,388.90000000000003 Z" fill="#222" stroke-width="0.7"/>
<path d="M27.9,403.4 L30.099999999999998,407.3 L25.7,407.3 Z" fill="#222" stroke-width="0.7"/>
<path d="M27.3,407.0 L29.5,410.90000000000003 L25.1,410.90000000000003 Z" fill="#222" stroke-width="0.7"/>
<path d="M32.8,394.9 L35.0,398.8 L30.599999999999998,398.8 Z" fill="#222" stroke-width="0.7"/>
<path d="M38.8,390.0 L41.0,393.90000000000003 L36.599999999999994,393.90000000000003 Z" fill="#222" stroke-width="0.7"/>
<path d="M34.6,414.9 L36.800000000000004,418.8 L32.4,418.8 Z" fill="#222" stroke-width="0.7"/>
<path d="M41.3,418.0 L43.5,421.90000000000003 L39.099999999999994,421.90000000000003 Z" fill="#222" stroke-width="0.7"/>
<path d="M49.8,422.8 L52.0,426.70000000000005 L47.599999999999994,426.70000000000005 Z" fill="#222" stroke-width="0.7"/>
<path d="M45.5,398.5 L47.7,402.40000000000003 L43.3,402.40000000000003 Z" fill="#222" stroke-width="0.7"/>
<path d="M48.6,406.4 L50.800000000000004,410.3 L46.4,410.3 Z" fill="#222" stroke-width="0.7"/>
<path d="M49.2,394.9 L51.400000000000006,398.8 L47.0,398.8 Z" fill="#222" stroke-width="0.7"/>
<path d="M48,388.8 L50.2,392.70000000000005 L45.8,392.70000000000005 Z" fill="#222" stroke-width="0.7"/>
<path d="M49.2,385.09999999999997 L51.400000000000006,389.0 L47.0,389.0 Z" fill="#222" stroke-width="0.7"/>
<path d="M55.3,383.9 L57.5,387.8 L53.099999999999994,387.8 Z" fill="#222" stroke-width="0.7"/>
<path d="M55.3,388.8 L57.5,392.70000000000005 L53.099999999999994,392.70000000000005 Z" fill="#222" stroke-width="0.7"/>
<path d="M55.3,393.7 L57.5,397.6 L53.099999999999994,397.6 Z" fill="#222" stroke-width="0.7"/>
<path d="M54.7,398.5 L56.900000000000006,402.40000000000003 L52.5,402.40000000000003 Z" fill="#222" stroke-width="0.7"/>
<path d="M55.9,405.2 L58.1,409.1 L53.699999999999996,409.1 Z" fill="#222" stroke-width="0.7"/>
<path d="M58.9,402.2 L61.1,406.1 L56.699999999999996,406.1 Z" fill="#222" stroke-width="0.7"/>
<path d="M62.6,413.7 L64.8,417.6 L60.4,417.6 Z" fill="#222" stroke-width="0.7"/>
<path d="M63.2,399.7 L65.4,403.6 L61.0,403.6 Z" fill="#222" stroke-width="0.7"/>
<path d="M66.8,419.2 L69.0,423.1 L64.6,423.1 Z" fill="#222" stroke-width="0.7"/>
<path d="M71.1,398.5 L73.3,402.40000000000003 L68.89999999999999,402.40000000000003 Z" fill="#222" stroke-width="0.7"/>
<path d="M72.3,412.5 L74.5,416.40000000000003 L70.1,416.40000000000003 Z" fill="#222" stroke-width="0.7"/>
<path d="M75.3,394.9 L77.5,398.8 L73.1,398.8 Z" fill="#222" stroke-width="0.7"/>
<path d="M75.3,390.0 L77.5,393.90000000000003 L73.1,393.90000000000003 Z" fill="#222" stroke-width="0.7"/>
<path d="M74.7,383.9 L76.9,387.8 L72.5,387.8 Z" fill="#222" stroke-width="0.7"/>
<path d="M79.6,407.0 L81.8,410.90000000000003 L77.39999999999999,410.90000000000003 Z" fill="#222" stroke-width="0.7"/>
<path d="M78.4,413.7 L80.60000000000001,417.6 L76.2,417.6 Z" fill="#222" stroke-width="0.7"/>
<path d="M82,416.09999999999997 L84.2,420.0 L79.8,420.0 Z" fill="#222" stroke-width="0.7"/>
<path d="M79.6,404.59999999999997 L81.8,408.5 L77.39999999999999,408.5 Z" fill="#222" stroke-width="0.7"/>
<path d="M82,387.59999999999997 L84.2,391.5 L79.8,391.5 Z" fill="#222" stroke-width="0.7"/>
<path d="M82,392.4 L84.2,396.3 L79.8,396.3 Z" fill="#222" stroke-width="0.7"/>
<path d="M81.4,397.3 L83.60000000000001,401.20000000000005 L79.2,401.20000000000005 Z" fill="#222" stroke-width="0.7"/>
<path d="M88.1,399.7 L90.3,403.6 L85.89999999999999,403.6 Z" fill="#222" stroke-width="0.7"/>
<path d="M88.1,424.7 L90.3,428.6 L85.89999999999999,428.6 Z" fill="#222" stroke-width="0.7"/>
<path d="M92.3,408.2 L94.5,412.1 L90.1,412.1 Z" fill="#222" stroke-width="0.7"/>
<path d="M97.8,385.09999999999997 L100.0,389.0 L95.6,389.0 Z" fill="#222" stroke-width="0.7"/>
<path d="M98.4,408.2 L100.60000000000001,412.1 L96.2,412.1 Z" fill="#222" stroke-width="0.7"/>
<path d="M97.7,385.7 L99.9,389.6 L95.5,389.6 Z" fill="#222" stroke-width="0.7"/>
<path d="M100.5,402.09999999999997 L102.7,406.0 L98.3,406.0 Z" fill="#222" stroke-width="0.7"/>
<path d="M100.5,407.59999999999997 L102.7,411.5 L98.3,411.5 Z" fill="#222" stroke-width="0.7"/>
<path d="M127.6,369.2 L129.79999999999998,373.1 L125.39999999999999,373.1 Z" fill="#222" stroke-width="0.7"/>
<path d="M138.6,368.3 L140.79999999999998,372.20000000000005 L136.4,372.20000000000005 Z" fill="#222" stroke-width="0.7"/>
<path d="M137.5,387.5 L139.7,391.40000000000003 L135.3,391.40000000000003 Z" fill="#222" stroke-width="0.7"/>
<path d="M150.8,369.2 L153.0,373.1 L148.60000000000002,373.1 Z" fill="#222" stroke-width="0.7"/>
<path d="M149.9,396.59999999999997 L152.1,400.5 L147.70000000000002,400.5 Z" fill="#222" stroke-width="0.7"/>
<path d="M149,400.3 L151.2,404.20000000000005 L146.8,404.20000000000005 Z" fill="#222" stroke-width="0.7"/>
<path d="M150.8,411.3 L153.0,415.20000000000005 L148.60000000000002,415.20000000000005 Z" fill="#222" stroke-width="0.7"/>
<path d="M152.7,413.09999999999997 L154.89999999999998,417.0 L150.5,417.0 Z" fill="#222" stroke-width="0.7"/>
<path d="M167.9,369.2 L170.1,373.1 L165.70000000000002,373.1 Z" fill="#222" stroke-width="0.7"/>
<path d="M114.8,396.59999999999997 L117.0,400.5 L112.6,400.5 Z" fill="#222" stroke-width="0.7"/>
<path d="M114.2,408.5 L116.4,412.40000000000003 L112.0,412.40000000000003 Z" fill="#222" stroke-width="0.7"/>
<path d="M115.1,414.9 L117.3,418.8 L112.89999999999999,418.8 Z" fill="#222" stroke-width="0.7"/>
<path d="M116,418.59999999999997 L118.2,422.5 L113.8,422.5 Z" fill="#222" stroke-width="0.7"/>
<path d="M119.3,400.7 L121.5,404.6 L117.1,404.6 Z" fill="#222" stroke-width="0.7"/>
<path d="M125.2,401.2 L127.4,405.1 L123.0,405.1 Z" fill="#222" stroke-width="0.7"/>
<path d="M128.9,409.4 L131.1,413.3 L126.7,413.3 Z" fill="#222" stroke-width="0.7"/>
<path d="M131.6,397.59999999999997 L133.79999999999998,401.5 L129.4,401.5 Z" fill="#222" stroke-width="0.7"/>
<path d="M134.9,404.0 L137.1,407.90000000000003 L132.70000000000002,407.90000000000003 Z" fill="#222" stroke-width="0.7"/>
<path d="M162.7,409.4 L164.89999999999998,413.3 L160.5,413.3 Z" fill="#222" stroke-width="0.7"/>
<path d="M167.3,398.5 L169.5,402.40000000000003 L165.10000000000002,402.40000000000003 Z" fill="#222" stroke-width="0.7"/>
<path d="M169.1,402.09999999999997 L171.29999999999998,406.0 L166.9,406.0 Z" fill="#222" stroke-width="0.7"/>
<path d="M168.2,393.0 L170.39999999999998,396.90000000000003 L166.0,396.90000000000003 Z" fill="#222" stroke-width="0.7"/>
<path d="M170,417.7 L172.2,421.6 L167.8,421.6 Z" fill="#222" stroke-width="0.7"/>
<path d="M171.9,407.59999999999997 L174.1,411.5 L169.70000000000002,411.5 Z" fill="#222" stroke-width="0.7"/>
<path d="M173.7,411.3 L175.89999999999998,415.20000000000005 L171.5,415.20000000000005 Z" fill="#222" stroke-width="0.7"/>
<path d="M172.8,404.0 L175.0,407.90000000000003 L170.60000000000002,407.90000000000003 Z" fill="#222" stroke-width="0.7"/>
<path d="M173.7,380.2 L175.89999999999998,384.1 L171.5,384.1 Z" fill="#222" stroke-width="0.7"/>
<path d="M175.1,378.3 L177.29999999999998,382.20000000000005 L172.9,382.20000000000005 Z" fill="#222" stroke-width="0.7"/>
<path d="M176.9,382.0 L179.1,385.90000000000003 L174.70000000000002,385.90000000000003 Z" fill="#222" stroke-width="0.7"/>
<path d="M167.7,394.8 L169.89999999999998,398.70000000000005 L165.5,398.70000000000005 Z" fill="#222" stroke-width="0.7"/>
<path d="M168.7,398.5 L170.89999999999998,402.40000000000003 L166.5,402.40000000000003 Z" fill="#222" stroke-width="0.7"/>
<path d="M166.8,402.09999999999997 L169.0,406.0 L164.60000000000002,406.0 Z" fill="#222" stroke-width="0.7"/>
<path d="M169.6,405.8 L171.79999999999998,409.70000000000005 L167.4,409.70000000000005 Z" fill="#222" stroke-width="0.7"/>
<path d="M167.7,409.4 L169.89999999999998,413.3 L165.5,413.3 Z" fill="#222" stroke-width="0.7"/>
<path d="M172.3,389.3 L174.5,393.20000000000005 L170.10000000000002,393.20000000000005 Z" fill="#222" stroke-width="0.7"/>
<path d="M173.2,411.3 L175.39999999999998,415.20000000000005 L171.0,415.20000000000005 Z" fill="#222" stroke-width="0.7"/>
<path d="M170.5,417.7 L172.7,421.6 L168.3,421.6 Z" fill="#222" stroke-width="0.7"/>
<path d="M194.3,404.0 L196.5,407.90000000000003 L192.10000000000002,407.90000000000003 Z" fill="#222" stroke-width="0.7"/>
<path d="M195.2,407.59999999999997 L197.39999999999998,411.5 L193.0,411.5 Z" fill="#222" stroke-width="0.7"/>
<path d="M196.1,413.09999999999997 L198.29999999999998,417.0 L193.9,417.0 Z" fill="#222" stroke-width="0.7"/>
<path d="M197,416.8 L199.2,420.70000000000005 L194.8,420.70000000000005 Z" fill="#222" stroke-width="0.7"/>
<path d="M198,402.09999999999997 L200.2,406.0 L195.8,406.0 Z" fill="#222" stroke-width="0.7"/>
<path d="M194.3,411.3 L196.5,415.20000000000005 L192.10000000000002,415.20000000000005 Z" fill="#222" stroke-width="0.7"/>
<path d="M206.5,401.0 L208.7,404.90000000000003 L204.3,404.90000000000003 Z" fill="#222" stroke-width="0.7"/>
<path d="M205.9,405.3 L208.1,409.20000000000005 L203.70000000000002,409.20000000000005 Z" fill="#222" stroke-width="0.7"/>
<path d="M206.5,408.59999999999997 L208.7,412.5 L204.3,412.5 Z" fill="#222" stroke-width="0.7"/>
<path d="M204.8,411.8 L207.0,415.70000000000005 L202.60000000000002,415.70000000000005 Z" fill="#222" stroke-width="0.7"/>
<path d="M204.3,415.0 L206.5,418.90000000000003 L202.10000000000002,418.90000000000003 Z" fill="#222" stroke-width="0.7"/>
<path d="M204.8,423.59999999999997 L207.0,427.5 L202.60000000000002,427.5 Z" fill="#222" stroke-width="0.7"/>
<path d="M212.4,398.9 L214.6,402.8 L210.20000000000002,402.8 Z" fill="#222" stroke-width="0.7"/>
<path d="M215.1,417.2 L217.29999999999998,421.1 L212.9,421.1 Z" fill="#222" stroke-width="0.7"/>
<path d="M216.2,419.3 L218.39999999999998,423.20000000000005 L214.0,423.20000000000005 Z" fill="#222" stroke-width="0.7"/>
<path d="M214,419.9 L216.2,423.8 L211.8,423.8 Z" fill="#222" stroke-width="0.7"/>
<path d="M221,409.7 L223.2,413.6 L218.8,413.6 Z" fill="#222" stroke-width="0.7"/>
<path d="M221.6,414.0 L223.79999999999998,417.90000000000003 L219.4,417.90000000000003 Z" fill="#222" stroke-width="0.7"/>
<path d="M222.1,417.2 L224.29999999999998,421.1 L219.9,421.1 Z" fill="#222" stroke-width="0.7"/>
<path d="M220.5,419.3 L222.7,423.20000000000005 L218.3,423.20000000000005 Z" fill="#222" stroke-width="0.7"/>
<path d="M221.6,421.5 L223.79999999999998,425.40000000000003 L219.4,425.40000000000003 Z" fill="#222" stroke-width="0.7"/>
<path d="M225.9,403.2 L228.1,407.1 L223.70000000000002,407.1 Z" fill="#222" stroke-width="0.7"/>
<path d="M228,402.59999999999997 L230.2,406.5 L225.8,406.5 Z" fill="#222" stroke-width="0.7"/>
<path d="M230.2,403.2 L232.39999999999998,407.1 L228.0,407.1 Z" fill="#222" stroke-width="0.7"/>
<path d="M231.3,410.7 L233.5,414.6 L229.10000000000002,414.6 Z" fill="#222" stroke-width="0.7"/>
<path d="M231.8,414.0 L234.0,417.90000000000003 L229.60000000000002,417.90000000000003 Z" fill="#222" stroke-width="0.7"/>
<path d="M232.3,411.7 L234.5,415.6 L230.10000000000002,415.6 Z" fill="#222" stroke-width="0.7"/>
<path d="M233.8,413.9 L236.0,417.8 L231.60000000000002,417.8 Z" fill="#222" stroke-width="0.7"/>
<path d="M231.5,402.59999999999997 L233.7,406.5 L229.3,406.5 Z" fill="#222" stroke-width="0.7"/>
<path d="M253.4,406.4 L255.6,410.3 L251.20000000000002,410.3 Z" fill="#222" stroke-width="0.7"/>
<path d="M264.7,413.2 L266.9,417.1 L262.5,417.1 Z" fill="#222" stroke-width="0.7"/>
<path d="M267.7,420.7 L269.9,424.6 L265.5,424.6 Z" fill="#222" stroke-width="0.7"/>
<path d="M268.9,421.5 L271.09999999999997,425.40000000000003 L266.7,425.40000000000003 Z" fill="#222" stroke-width="0.7"/>
<path d="M270,420.0 L272.2,423.90000000000003 L267.8,423.90000000000003 Z" fill="#222" stroke-width="0.7"/>
</g>
<line x1="26.4" y1="375.8" x2="293.4" y2="429.5" stroke="#111" stroke-width="1"/>
<path d="M382.6,271.0 L653.8,271.0 L653.8,433.7" fill="none" stroke="#555" stroke-width="1.1"/>
<path d="M382.6,271.0 L382.6,433.7 L653.8,433.7" fill="none" stroke="#111" stroke-width="1.4"/>
<g stroke="#111" stroke-width="1">
<line x1="379.1" y1="433.70" x2="382.6" y2="433.70"/>
<line x1="379.1" y1="410.46" x2="382.6" y2="410.46"/>
<line x1="379.1" y1="387.21" x2="382.6" y2="387.21"/>
<line x1="379.1" y1="363.97" x2="382.6" y2="363.97"/>
<line x1="379.1" y1="340.73" x2="382.6" y2="340.73"/>
<line x1="379.1" y1="317.49" x2="382.6" y2="317.49"/>
<line x1="379.1" y1="294.24" x2="382.6" y2="294.24"/>
<line x1="379.1" y1="271.00" x2="382.6" y2="271.00"/>
<line x1="382.60" y1="433.7" x2="382.60" y2="437.2"/>
<line x1="427.80" y1="433.7" x2="427.80" y2="437.2"/>
<line x1="473.00" y1="433.7" x2="473.00" y2="437.2"/>
<line x1="518.20" y1="433.7" x2="518.20" y2="437.2"/>
<line x1="563.40" y1="433.7" x2="563.40" y2="437.2"/>
<line x1="608.60" y1="433.7" x2="608.60" y2="437.2"/>
<line x1="653.80" y1="433.7" x2="653.80" y2="437.2"/>
</g>
<g font-family="'Liberation Serif', serif" font-weight="bold" font-size="7.6" fill="#111">
<text x="376.1" y="436.60" text-anchor="end">0</text>
<text x="376.1" y="413.36" text-anchor="end">1</text>
<text x="376.1" y="390.11" text-anchor="end">2</text>
<text x="376.1" y="366.87" text-anchor="end">3</text>
<text x="376.1" y="343.63" text-anchor="end">4</text>
<text x="376.1" y="320.39" text-anchor="end">5</text>
<text x="376.1" y="297.14" text-anchor="end">6</text>
<text x="376.1" y="273.90" text-anchor="end">7</text>
<text x="382.60" y="447.5" text-anchor="middle">0</text>
<text x="427.80" y="447.5" text-anchor="middle">10</text>
<text x="473.00" y="447.5" text-anchor="middle">20</text>
<text x="518.20" y="447.5" text-anchor="middle">30</text>
<text x="563.40" y="447.5" text-anchor="middle">40</text>
<text x="608.60" y="447.5" text-anchor="middle">50</text>
<text x="653.80" y="447.5" text-anchor="middle">60</text>
</g>
<text x="518.2" y="459.7" text-anchor="middle" font-family="'Liberation Serif', serif" font-weight="bold" font-size="9" fill="#111">Clay (%)</text>
<text transform="translate(365.3,352.4) rotate(-90)" text-anchor="middle" style="stroke:none" font-family="'Liberation Serif', serif" font-weight="bold" font-size="9.2" fill="#111"><tspan font-size="6.2" dy="-3.4">137</tspan><tspan dy="3.4">Cs (Bq kg</tspan><tspan font-size="6.2" dy="-3.4">-1</tspan><tspan dy="3.4">)</tspan></text>
<text x="397.9" y="288.8" font-family="'Liberation Serif', serif" font-weight="bold" font-size="9.5" fill="#111">(d)</text>
<text x="580.5" y="309.2" text-anchor="middle" font-family="'Liberation Serif', serif" font-weight="bold" font-size="12.3" fill="#111">y=0.0605x+0.4296</text>
<text x="582.5" y="324.3" text-anchor="middle" font-family="'Liberation Serif', serif" font-weight="bold" font-size="12.3" fill="#111">R<tspan font-size="7.6" dy="-4.3">2</tspan><tspan dy="4.3">=0.3247</tspan></text>
<g stroke="#f01010" stroke-width="1" fill="none">
<path d="M405.3,390.7 V425 M402.90000000000003,390.7 h4.8 M402.90000000000003,425 h4.8"/>
<path d="M397.4,418 V425.5 M395.0,418 h4.8 M395.0,425.5 h4.8"/>
<path d="M402.4,416 V425 M400.0,416 h4.8 M400.0,425 h4.8"/>
<path d="M402.4,411 V417.5 M400.0,411 h4.8 M400.0,417.5 h4.8"/>
<path d="M401.1,420 V428 M398.70000000000005,420 h4.8 M398.70000000000005,428 h4.8"/>
<path d="M414.8,401.5 V407 M412.40000000000003,401.5 h4.8 M412.40000000000003,407 h4.8"/>
<path d="M417.2,408 V420 M414.8,408 h4.8 M414.8,420 h4.8"/>
<path d="M419.7,407 V419 M417.3,407 h4.8 M417.3,419 h4.8"/>
<path d="M421,413 V423 M418.6,413 h4.8 M418.6,423 h4.8"/>
<path d="M418.5,414 V424.5 M416.1,414 h4.8 M416.1,424.5 h4.8"/>
<path d="M427.1,389.6 V430.3 M424.70000000000005,389.6 h4.8 M424.70000000000005,430.3 h4.8"/>
<path d="M430.9,352.2 V389.4 M428.5,352.2 h4.8 M428.5,389.4 h4.8"/>
<path d="M432.1,375 V384 M429.70000000000005,375 h4.8 M429.70000000000005,384 h4.8"/>
<path d="M432.1,378 V388 M429.70000000000005,378 h4.8 M429.70000000000005,388 h4.8"/>
<path d="M431.3,367 V377 M428.90000000000003,367 h4.8 M428.90000000000003,377 h4.8"/>
<path d="M433.4,378 V387 M431.0,378 h4.8 M431.0,387 h4.8"/>
<path d="M441.8,361 V380 M439.40000000000003,361 h4.8 M439.40000000000003,380 h4.8"/>
<path d="M441.8,382 V393 M439.40000000000003,382 h4.8 M439.40000000000003,393 h4.8"/>
<path d="M442,361 V378 M439.6,361 h4.8 M439.6,378 h4.8"/>
<path d="M442,381 V392 M439.6,381 h4.8 M439.6,392 h4.8"/>
<path d="M448.2,376 V392 M445.8,376 h4.8 M445.8,392 h4.8"/>
<path d="M456.2,309.3 V356.2 M453.8,309.3 h4.8 M453.8,356.2 h4.8"/>
<path d="M464.5,325.2 V365 M462.1,325.2 h4.8 M462.1,365 h4.8"/>
<path d="M460.6,352 V380 M458.20000000000005,352 h4.8 M458.20000000000005,380 h4.8"/>
<path d="M459.4,384 V397 M457.0,384 h4.8 M457.0,397 h4.8"/>
<path d="M456.9,394 V405 M454.5,394 h4.8 M454.5,405 h4.8"/>
<path d="M459.4,396 V407 M457.0,396 h4.8 M457.0,407 h4.8"/>
<path d="M461.9,400 V411 M459.5,400 h4.8 M459.5,411 h4.8"/>
<path d="M455.7,401 V412 M453.3,401 h4.8 M453.3,412 h4.8"/>
<path d="M458.1,406 V417 M455.70000000000005,406 h4.8 M455.70000000000005,417 h4.8"/>
<path d="M454.4,409 V419 M452.0,409 h4.8 M452.0,419 h4.8"/>
<path d="M456.9,411 V422 M454.5,411 h4.8 M454.5,422 h4.8"/>
<path d="M459.4,421 V431 M457.0,421 h4.8 M457.0,431 h4.8"/>
<path d="M469.3,364 V375 M466.90000000000003,364 h4.8 M466.90000000000003,375 h4.8"/>
<path d="M470.5,368 V379 M468.1,368 h4.8 M468.1,379 h4.8"/>
<path d="M473,370 V381 M470.6,370 h4.8 M470.6,381 h4.8"/>
<path d="M468.1,389 V400 M465.70000000000005,389 h4.8 M465.70000000000005,400 h4.8"/>
<path d="M469.3,394 V405 M466.90000000000003,394 h4.8 M466.90000000000003,405 h4.8"/>
<path d="M466.8,399 V410 M464.40000000000003,399 h4.8 M464.40000000000003,410 h4.8"/>
<path d="M470.5,403 V413 M468.1,403 h4.8 M468.1,413 h4.8"/>
<path d="M474.3,409 V419 M471.90000000000003,409 h4.8 M471.90000000000003,419 h4.8"/>
<path d="M475.5,414 V424 M473.1,414 h4.8 M473.1,424 h4.8"/>
<path d="M473,419 V429 M470.6,419 h4.8 M470.6,429 h4.8"/>
<path d="M485.5,333.8 V378 M483.1,333.8 h4.8 M483.1,378 h4.8"/>
<path d="M485.4,370 V381 M483.0,370 h4.8 M483.0,381 h4.8"/>
<path d="M487.9,369 V380 M485.5,369 h4.8 M485.5,380 h4.8"/>
<path d="M481.7,385 V396 M479.3,385 h4.8 M479.3,396 h4.8"/>
<path d="M475.5,394 V405 M473.1,394 h4.8 M473.1,405 h4.8"/>
<path d="M491.6,368 V381 M489.20000000000005,368 h4.8 M489.20000000000005,381 h4.8"/>
<path d="M489.1,391 V421 M486.70000000000005,391 h4.8 M486.70000000000005,421 h4.8"/>
<path d="M487.9,414 V424 M485.5,414 h4.8 M485.5,424 h4.8"/>
<path d="M494.1,387 V397 M491.70000000000005,387 h4.8 M491.70000000000005,397 h4.8"/>
<path d="M495.3,392 V402 M492.90000000000003,392 h4.8 M492.90000000000003,402 h4.8"/>
<path d="M500.3,409 V419 M497.90000000000003,409 h4.8 M497.90000000000003,419 h4.8"/>
<path d="M501.5,387 V397 M499.1,387 h4.8 M499.1,397 h4.8"/>
<path d="M502.8,392 V402 M500.40000000000003,392 h4.8 M500.40000000000003,402 h4.8"/>
<path d="M505.5,343.4 V369.1 M503.1,343.4 h4.8 M503.1,369.1 h4.8"/>
<path d="M529.5,299.6 V330.3 M527.1,299.6 h4.8 M527.1,330.3 h4.8"/>
<path d="M533.7,299.6 V336 M531.3000000000001,299.6 h4.8 M531.3000000000001,336 h4.8"/>
<path d="M602.5,320.6 V341.6 M600.1,320.6 h4.8 M600.1,341.6 h4.8"/>
<path d="M520.7,351.3 V364.2 M518.3000000000001,351.3 h4.8 M518.3000000000001,364.2 h4.8"/>
<path d="M515.2,357.8 V373.9 M512.8000000000001,357.8 h4.8 M512.8000000000001,373.9 h4.8"/>
<path d="M532,351 V361 M529.6,351 h4.8 M529.6,361 h4.8"/>
<path d="M533.7,356 V366 M531.3000000000001,356 h4.8 M531.3000000000001,366 h4.8"/>
<path d="M535.3,361 V371 M532.9,361 h4.8 M532.9,371 h4.8"/>
<path d="M532,366 V376 M529.6,366 h4.8 M529.6,376 h4.8"/>
<path d="M536.9,366 V376 M534.5,366 h4.8 M534.5,376 h4.8"/>
<path d="M531.4,370 V381 M529.0,370 h4.8 M529.0,381 h4.8"/>
<path d="M533.7,376 V388 M531.3000000000001,376 h4.8 M531.3000000000001,388 h4.8"/>
<path d="M528.8,380 V391 M526.4,380 h4.8 M526.4,391 h4.8"/>
<path d="M537.9,378 V389 M535.5,378 h4.8 M535.5,389 h4.8"/>
<path d="M533.7,389 V401 M531.3000000000001,389 h4.8 M531.3000000000001,401 h4.8"/>
<path d="M540.1,362 V373 M537.7,362 h4.8 M537.7,373 h4.8"/>
<path d="M543.4,359 V369 M541.0,359 h4.8 M541.0,369 h4.8"/>
<path d="M546.6,366 V377 M544.2,366 h4.8 M544.2,377 h4.8"/>
<path d="M555.7,343.2 V369.1 M553.3000000000001,343.2 h4.8 M553.3000000000001,369.1 h4.8"/>
<path d="M573.4,376.5 V381 M571.0,376.5 h4.8 M571.0,381 h4.8"/>
<path d="M510.4,372.3 V385.3 M508.0,372.3 h4.8 M508.0,385.3 h4.8"/>
<path d="M493.2,377 V387 M490.8,377 h4.8 M490.8,387 h4.8"/>
<path d="M494.9,387 V397 M492.5,387 h4.8 M492.5,397 h4.8"/>
<path d="M491.6,391 V402 M489.20000000000005,391 h4.8 M489.20000000000005,402 h4.8"/>
<path d="M496.5,384 V393 M494.1,384 h4.8 M494.1,393 h4.8"/>
<path d="M501.3,387 V397 M498.90000000000003,387 h4.8 M498.90000000000003,397 h4.8"/>
<path d="M502.9,392 V402 M500.5,392 h4.8 M500.5,402 h4.8"/>
<path d="M502.3,388 V398 M499.90000000000003,388 h4.8 M499.90000000000003,398 h4.8"/>
<path d="M512,398 V403.5 M509.6,398 h4.8 M509.6,403.5 h4.8"/>
<path d="M497.1,413 V417.5 M494.70000000000005,413 h4.8 M494.70000000000005,417.5 h4.8"/>
<path d="M501.3,411 V421 M498.90000000000003,411 h4.8 M498.90000000000003,421 h4.8"/>
<path d="M522.3,412 V427.3 M519.9,412 h4.8 M519.9,427.3 h4.8"/>
<path d="M527.2,408 V424 M524.8000000000001,408 h4.8 M524.8000000000001,424 h4.8"/>
<path d="M546.6,398 V411 M544.2,398 h4.8 M544.2,411 h4.8"/>
<path d="M547.6,402 V414 M545.2,402 h4.8 M545.2,414 h4.8"/>
<path d="M547.6,406 V420 M545.2,406 h4.8 M545.2,420 h4.8"/>
<path d="M436.3,403.6 V417.9 M433.90000000000003,403.6 h4.8 M433.90000000000003,417.9 h4.8"/>
<path d="M437.7,409.0 V419.2 M435.3,409.0 h4.8 M435.3,419.2 h4.8"/>
<path d="M440.7,417.0 V425.4 M438.3,417.0 h4.8 M438.3,425.4 h4.8"/>
<path d="M427.3,414.0 V424.4 M424.90000000000003,414.0 h4.8 M424.90000000000003,424.4 h4.8"/>
<path d="M449.6,419.8 V433 M447.20000000000005,419.8 h4.8 M447.20000000000005,433 h4.8"/>
<path d="M428.9,386.4 V395.9 M426.5,386.4 h4.8 M426.5,395.9 h4.8"/>
<path d="M429.8,397.5 V406.5 M427.40000000000003,397.5 h4.8 M427.40000000000003,406.5 h4.8"/>
<path d="M436.0,416.2 V429.2 M433.6,416.2 h4.8 M433.6,429.2 h4.8"/>
<path d="M437.5,410.1 V420.5 M435.1,410.1 h4.8 M435.1,420.5 h4.8"/>
<path d="M449.9,419.8 V433 M447.5,419.8 h4.8 M447.5,433 h4.8"/>
<path d="M432.9,395.5 V403.7 M430.5,395.5 h4.8 M430.5,403.7 h4.8"/>
<path d="M444.2,398.3 V411.7 M441.8,398.3 h4.8 M441.8,411.7 h4.8"/>
<path d="M449.0,419.5 V426.8 M446.6,419.5 h4.8 M446.6,426.8 h4.8"/>
<path d="M447.8,400.0 V414.3 M445.40000000000003,400.0 h4.8 M445.40000000000003,414.3 h4.8"/>
<path d="M426.8,407.0 V419.3 M424.40000000000003,407.0 h4.8 M424.40000000000003,419.3 h4.8"/>
<path d="M427.2,395.2 V411.5 M424.8,395.2 h4.8 M424.8,411.5 h4.8"/>
<path d="M427.9,397.3 V404.2 M425.5,397.3 h4.8 M425.5,404.2 h4.8"/>
<path d="M444.9,392.0 V404.1 M442.5,392.0 h4.8 M442.5,404.1 h4.8"/>
<path d="M429.8,414.6 V425.2 M427.40000000000003,414.6 h4.8 M427.40000000000003,425.2 h4.8"/>
<path d="M427.9,402.9 V411.8 M425.5,402.9 h4.8 M425.5,411.8 h4.8"/>
<path d="M449.3,416.1 V429.2 M446.90000000000003,416.1 h4.8 M446.90000000000003,429.2 h4.8"/>
<path d="M430.3,398.1 V413.0 M427.90000000000003,398.1 h4.8 M427.90000000000003,413.0 h4.8"/>
<path d="M427.5,423.3 V432.2 M425.1,423.3 h4.8 M425.1,432.2 h4.8"/>
<path d="M444.3,399.1 V407.3 M441.90000000000003,399.1 h4.8 M441.90000000000003,407.3 h4.8"/>
<path d="M427.3,408.5 V419.6 M424.90000000000003,408.5 h4.8 M424.90000000000003,419.6 h4.8"/>
<path d="M434.3,399.6 V414.2 M431.90000000000003,399.6 h4.8 M431.90000000000003,414.2 h4.8"/>
<path d="M439.4,419.1 V427.1 M437.0,419.1 h4.8 M437.0,427.1 h4.8"/>
<path d="M447.7,416.9 V425.6 M445.3,416.9 h4.8 M445.3,425.6 h4.8"/>
<path d="M443.5,421.7 V433 M441.1,421.7 h4.8 M441.1,433 h4.8"/>
<path d="M447.1,408.2 V417.4 M444.70000000000005,408.2 h4.8 M444.70000000000005,417.4 h4.8"/>
<path d="M426.0,422.2 V433 M423.6,422.2 h4.8 M423.6,433 h4.8"/>
<path d="M431.4,415.1 V426.4 M429.0,415.1 h4.8 M429.0,426.4 h4.8"/>
<path d="M429.4,414.5 V422.3 M427.0,414.5 h4.8 M427.0,422.3 h4.8"/>
<path d="M439.0,416.0 V427.4 M436.6,416.0 h4.8 M436.6,427.4 h4.8"/>
<path d="M447.9,396.2 V404.0 M445.5,396.2 h4.8 M445.5,404.0 h4.8"/>
<path d="M436.1,390.1 V399.4 M433.70000000000005,390.1 h4.8 M433.70000000000005,399.4 h4.8"/>
<path d="M439.3,391.6 V405.1 M436.90000000000003,391.6 h4.8 M436.90000000000003,405.1 h4.8"/>
<path d="M449.5,408.5 V422.2 M447.1,408.5 h4.8 M447.1,422.2 h4.8"/>
<path d="M428.5,390.2 V401.7 M426.1,390.2 h4.8 M426.1,401.7 h4.8"/>
<path d="M442.5,423.5 V433 M440.1,423.5 h4.8 M440.1,433 h4.8"/>
<path d="M437.1,413.4 V427.3 M434.70000000000005,413.4 h4.8 M434.70000000000005,427.3 h4.8"/>
<path d="M426.9,404.2 V420.1 M424.5,404.2 h4.8 M424.5,420.1 h4.8"/>
<path d="M459.7,410.2 V422.6 M457.3,410.2 h4.8 M457.3,422.6 h4.8"/>
<path d="M461.9,400.5 V411.9 M459.5,400.5 h4.8 M459.5,411.9 h4.8"/>
<path d="M461.8,416.6 V425.9 M459.40000000000003,416.6 h4.8 M459.40000000000003,425.9 h4.8"/>
<path d="M460.4,415.7 V426.3 M458.0,415.7 h4.8 M458.0,426.3 h4.8"/>
<path d="M458.3,401.8 V412.4 M455.90000000000003,401.8 h4.8 M455.90000000000003,412.4 h4.8"/>
<path d="M458.1,392.8 V403.9 M455.70000000000005,392.8 h4.8 M455.70000000000005,403.9 h4.8"/>
<path d="M462.9,415.6 V427.4 M460.5,415.6 h4.8 M460.5,427.4 h4.8"/>
<path d="M455.4,412.0 V422.6 M453.0,412.0 h4.8 M453.0,422.6 h4.8"/>
<path d="M456.0,417.0 V423.6 M453.6,417.0 h4.8 M453.6,423.6 h4.8"/>
<path d="M459.9,391.5 V402.3 M457.5,391.5 h4.8 M457.5,402.3 h4.8"/>
<path d="M456.5,396.9 V408.5 M454.1,396.9 h4.8 M454.1,408.5 h4.8"/>
<path d="M456.7,407.1 V420.5 M454.3,407.1 h4.8 M454.3,420.5 h4.8"/>
<path d="M453.7,392.1 V400.5 M451.3,392.1 h4.8 M451.3,400.5 h4.8"/>
<path d="M459.0,398.2 V405.6 M456.6,398.2 h4.8 M456.6,405.6 h4.8"/>
<path d="M431.6,361 V383 M429.20000000000005,361 h4.8 M429.20000000000005,383 h4.8"/>
<path d="M432.4,372 V388 M430.0,372 h4.8 M430.0,388 h4.8"/>
<path d="M441.9,362 V378 M439.5,362 h4.8 M439.5,378 h4.8"/>
<path d="M441.9,380 V393 M439.5,380 h4.8 M439.5,393 h4.8"/>
<path d="M447.6,378 V391 M445.20000000000005,378 h4.8 M445.20000000000005,391 h4.8"/>
<path d="M415.2,401 V407 M412.8,401 h4.8 M412.8,407 h4.8"/>
<path d="M417.8,407 V417 M415.40000000000003,407 h4.8 M415.40000000000003,417 h4.8"/>
<path d="M420.3,410 V420 M417.90000000000003,410 h4.8 M417.90000000000003,420 h4.8"/>
<path d="M416,411 V421 M413.6,411 h4.8 M413.6,421 h4.8"/>
<path d="M445.3,423 V430 M442.90000000000003,423 h4.8 M442.90000000000003,430 h4.8"/>
<path d="M460,422 V429 M457.6,422 h4.8 M457.6,429 h4.8"/>
<path d="M482.4,383 V396 M480.0,383 h4.8 M480.0,396 h4.8"/>
<path d="M486.7,390 V403 M484.3,390 h4.8 M484.3,403 h4.8"/>
<path d="M487.6,400 V410 M485.20000000000005,400 h4.8 M485.20000000000005,410 h4.8"/>
</g>
<g stroke="#f01010" stroke-width="1" fill="none">
<circle cx="405.3" cy="408" r="2.05" fill="none" stroke-width="1.1"/>
<circle cx="397.4" cy="421.7" r="2.05" fill="none" stroke-width="1.1"/>
<circle cx="402.4" cy="420.4" r="2.05" fill="none" stroke-width="1.1"/>
<circle cx="402.4" cy="414.2" r="2.05" fill="none" stroke-width="1.1"/>
<circle cx="401.1" cy="424.1" r="2.05" fill="none" stroke-width="1.1"/>
<circle cx="414.8" cy="404.3" r="2.05" fill="none" stroke-width="1.1"/>
<circle cx="417.2" cy="414.2" r="2.05" fill="none" stroke-width="1.1"/>
<circle cx="419.7" cy="413" r="2.05" fill="none" stroke-width="1.1"/>
<circle cx="421" cy="418" r="2.05" fill="none" stroke-width="1.1"/>
<circle cx="418.5" cy="419.2" r="2.05" fill="none" stroke-width="1.1"/>
<circle cx="427.1" cy="410" r="2.05" fill="none" stroke-width="1.1"/>
<circle cx="430.9" cy="372.1" r="2.05" fill="none" stroke-width="1.1"/>
<circle cx="432.1" cy="379.5" r="2.05" fill="none" stroke-width="1.1"/>
<circle cx="432.1" cy="383.2" r="2.05" fill="none" stroke-width="1.1"/>
<circle cx="431.3" cy="372.1" r="2.05" fill="none" stroke-width="1.1"/>
<circle cx="433.4" cy="382.6" r="2.05" fill="none" stroke-width="1.1"/>
<circle cx="441.8" cy="370.7" r="2.05" fill="none" stroke-width="1.1"/>
<circle cx="441.8" cy="387.5" r="2.05" fill="none" stroke-width="1.1"/>
<circle cx="442" cy="369.6" r="2.05" fill="none" stroke-width="1.1"/>
<circle cx="442" cy="387" r="2.05" fill="none" stroke-width="1.1"/>
<circle cx="448.2" cy="384" r="2.05" fill="none" stroke-width="1.1"/>
<circle cx="456.2" cy="332.9" r="2.05" fill="none" stroke-width="1.1"/>
<circle cx="464.5" cy="348.1" r="2.05" fill="none" stroke-width="1.1"/>
<circle cx="460.6" cy="369.6" r="2.05" fill="none" stroke-width="1.1"/>
<circle cx="459.4" cy="390.7" r="2.05" fill="none" stroke-width="1.1"/>
<circle cx="456.9" cy="399.3" r="2.05" fill="none" stroke-width="1.1"/>
<circle cx="459.4" cy="401.8" r="2.05" fill="none" stroke-width="1.1"/>
<circle cx="461.9" cy="405.5" r="2.05" fill="none" stroke-width="1.1"/>
<circle cx="455.7" cy="406.8" r="2.05" fill="none" stroke-width="1.1"/>
<circle cx="458.1" cy="411.7" r="2.05" fill="none" stroke-width="1.1"/>
<circle cx="454.4" cy="414.2" r="2.05" fill="none" stroke-width="1.1"/>
<circle cx="456.9" cy="416.7" r="2.05" fill="none" stroke-width="1.1"/>
<circle cx="459.4" cy="426.6" r="2.05" fill="none" stroke-width="1.1"/>
<circle cx="469.3" cy="369.6" r="2.05" fill="none" stroke-width="1.1"/>
<circle cx="470.5" cy="373.3" r="2.05" fill="none" stroke-width="1.1"/>
<circle cx="473" cy="375.8" r="2.05" fill="none" stroke-width="1.1"/>
<circle cx="468.1" cy="394.4" r="2.05" fill="none" stroke-width="1.1"/>
<circle cx="469.3" cy="399.3" r="2.05" fill="none" stroke-width="1.1"/>
<circle cx="466.8" cy="404.3" r="2.05" fill="none" stroke-width="1.1"/>
<circle cx="470.5" cy="408" r="2.05" fill="none" stroke-width="1.1"/>
<circle cx="474.3" cy="414.2" r="2.05" fill="none" stroke-width="1.1"/>
<circle cx="475.5" cy="419.2" r="2.05" fill="none" stroke-width="1.1"/>
<circle cx="473" cy="424.1" r="2.05" fill="none" stroke-width="1.1"/>
<circle cx="485.5" cy="356.7" r="2.05" fill="none" stroke-width="1.1"/>
<circle cx="485.4" cy="375.8" r="2.05" fill="none" stroke-width="1.1"/>
<circle cx="487.9" cy="374.5" r="2.05" fill="none" stroke-width="1.1"/>
<circle cx="481.7" cy="390.7" r="2.05" fill="none" stroke-width="1.1"/>
<circle cx="475.5" cy="399.3" r="2.05" fill="none" stroke-width="1.1"/>
<circle cx="491.6" cy="374.5" r="2.05" fill="none" stroke-width="1.1"/>
<circle cx="489.1" cy="404.3" r="2.05" fill="none" stroke-width="1.1"/>
<circle cx="487.9" cy="419.2" r="2.05" fill="none" stroke-width="1.1"/>
<circle cx="494.1" cy="391.9" r="2.05" fill="none" stroke-width="1.1"/>
<circle cx="495.3" cy="396.9" r="2.05" fill="none" stroke-width="1.1"/>
<circle cx="500.3" cy="414.2" r="2.05" fill="none" stroke-width="1.1"/>
<circle cx="501.5" cy="391.9" r="2.05" fill="none" stroke-width="1.1"/>
<circle cx="502.8" cy="396.9" r="2.05" fill="none" stroke-width="1.1"/>
<circle cx="505.5" cy="355" r="2.05" fill="none" stroke-width="1.1"/>
<circle cx="529.5" cy="311.5" r="2.05" fill="none" stroke-width="1.1"/>
<circle cx="533.7" cy="316.7" r="2.05" fill="none" stroke-width="1.1"/>
<circle cx="602.5" cy="327" r="2.05" fill="none" stroke-width="1.1"/>
<circle cx="520.7" cy="357.8" r="2.05" fill="none" stroke-width="1.1"/>
<circle cx="515.2" cy="365.9" r="2.05" fill="none" stroke-width="1.1"/>
<circle cx="532" cy="356.1" r="2.05" fill="none" stroke-width="1.1"/>
<circle cx="533.7" cy="361" r="2.05" fill="none" stroke-width="1.1"/>
<circle cx="535.3" cy="365.9" r="2.05" fill="none" stroke-width="1.1"/>
<circle cx="532" cy="370.7" r="2.05" fill="none" stroke-width="1.1"/>
<circle cx="536.9" cy="370.7" r="2.05" fill="none" stroke-width="1.1"/>
<circle cx="531.4" cy="375.6" r="2.05" fill="none" stroke-width="1.1"/>
<circle cx="533.7" cy="382" r="2.05" fill="none" stroke-width="1.1"/>
<circle cx="528.8" cy="385.3" r="2.05" fill="none" stroke-width="1.1"/>
<circle cx="537.9" cy="383.6" r="2.05" fill="none" stroke-width="1.1"/>
<circle cx="533.7" cy="395" r="2.05" fill="none" stroke-width="1.1"/>
<circle cx="540.1" cy="367.5" r="2.05" fill="none" stroke-width="1.1"/>
<circle cx="543.4" cy="364.2" r="2.05" fill="none" stroke-width="1.1"/>
<circle cx="546.6" cy="371.7" r="2.05" fill="none" stroke-width="1.1"/>
<circle cx="555.7" cy="356.8" r="2.05" fill="none" stroke-width="1.1"/>
<circle cx="573.4" cy="378.8" r="2.05" fill="none" stroke-width="1.1"/>
<circle cx="510.4" cy="379.4" r="2.05" fill="none" stroke-width="1.1"/>
<circle cx="493.2" cy="382" r="2.05" fill="none" stroke-width="1.1"/>
<circle cx="494.9" cy="391.7" r="2.05" fill="none" stroke-width="1.1"/>
<circle cx="491.6" cy="396.6" r="2.05" fill="none" stroke-width="1.1"/>
<circle cx="496.5" cy="388.5" r="2.05" fill="none" stroke-width="1.1"/>
<circle cx="501.3" cy="391.7" r="2.05" fill="none" stroke-width="1.1"/>
<circle cx="502.9" cy="396.6" r="2.05" fill="none" stroke-width="1.1"/>
<circle cx="502.3" cy="393.3" r="2.05" fill="none" stroke-width="1.1"/>
<circle cx="512" cy="400.8" r="2.05" fill="none" stroke-width="1.1"/>
<circle cx="497.1" cy="415.3" r="2.05" fill="none" stroke-width="1.1"/>
<circle cx="501.3" cy="416" r="2.05" fill="none" stroke-width="1.1"/>
<circle cx="522.3" cy="420.2" r="2.05" fill="none" stroke-width="1.1"/>
<circle cx="527.2" cy="416" r="2.05" fill="none" stroke-width="1.1"/>
<circle cx="546.6" cy="404.7" r="2.05" fill="none" stroke-width="1.1"/>
<circle cx="547.6" cy="407.9" r="2.05" fill="none" stroke-width="1.1"/>
<circle cx="547.6" cy="412.7" r="2.05" fill="none" stroke-width="1.1"/>
<circle cx="436.3" cy="412.2" r="2.05" fill="none" stroke-width="1.1"/>
<circle cx="437.7" cy="413.1" r="2.05" fill="none" stroke-width="1.1"/>
<circle cx="440.7" cy="420.5" r="2.05" fill="none" stroke-width="1.1"/>
<circle cx="427.3" cy="421.1" r="2.05" fill="none" stroke-width="1.1"/>
<circle cx="449.6" cy="426.7" r="2.05" fill="none" stroke-width="1.1"/>
<circle cx="428.9" cy="392.5" r="2.05" fill="none" stroke-width="1.1"/>
<circle cx="429.8" cy="400.7" r="2.05" fill="none" stroke-width="1.1"/>
<circle cx="436.0" cy="422.3" r="2.05" fill="none" stroke-width="1.1"/>
<circle cx="437.5" cy="415.8" r="2.05" fill="none" stroke-width="1.1"/>
<circle cx="449.9" cy="427.8" r="2.05" fill="none" stroke-width="1.1"/>
<circle cx="432.9" cy="400.3" r="2.05" fill="none" stroke-width="1.1"/>
<circle cx="444.2" cy="406.4" r="2.05" fill="none" stroke-width="1.1"/>
<circle cx="449.0" cy="422.5" r="2.05" fill="none" stroke-width="1.1"/>
<circle cx="447.8" cy="408.9" r="2.05" fill="none" stroke-width="1.1"/>
<circle cx="426.8" cy="414.7" r="2.05" fill="none" stroke-width="1.1"/>
<circle cx="427.2" cy="404.0" r="2.05" fill="none" stroke-width="1.1"/>
<circle cx="427.9" cy="400.9" r="2.05" fill="none" stroke-width="1.1"/>
<circle cx="444.9" cy="398.4" r="2.05" fill="none" stroke-width="1.1"/>
<circle cx="429.8" cy="418.3" r="2.05" fill="none" stroke-width="1.1"/>
<circle cx="427.9" cy="407.1" r="2.05" fill="none" stroke-width="1.1"/>
<circle cx="449.3" cy="420.9" r="2.05" fill="none" stroke-width="1.1"/>
<circle cx="430.3" cy="406.2" r="2.05" fill="none" stroke-width="1.1"/>
<circle cx="427.5" cy="427.6" r="2.05" fill="none" stroke-width="1.1"/>
<circle cx="444.3" cy="403.8" r="2.05" fill="none" stroke-width="1.1"/>
<circle cx="427.3" cy="413.0" r="2.05" fill="none" stroke-width="1.1"/>
<circle cx="434.3" cy="408.3" r="2.05" fill="none" stroke-width="1.1"/>
<circle cx="439.4" cy="423.2" r="2.05" fill="none" stroke-width="1.1"/>
<circle cx="447.7" cy="421.4" r="2.05" fill="none" stroke-width="1.1"/>
<circle cx="443.5" cy="425.9" r="2.05" fill="none" stroke-width="1.1"/>
<circle cx="447.1" cy="413.7" r="2.05" fill="none" stroke-width="1.1"/>
<circle cx="426.0" cy="426.7" r="2.05" fill="none" stroke-width="1.1"/>
<circle cx="431.4" cy="421.7" r="2.05" fill="none" stroke-width="1.1"/>
<circle cx="429.4" cy="417.9" r="2.05" fill="none" stroke-width="1.1"/>
<circle cx="439.0" cy="422.7" r="2.05" fill="none" stroke-width="1.1"/>
<circle cx="447.9" cy="399.3" r="2.05" fill="none" stroke-width="1.1"/>
<circle cx="436.1" cy="394.2" r="2.05" fill="none" stroke-width="1.1"/>
<circle cx="439.3" cy="396.7" r="2.05" fill="none" stroke-width="1.1"/>
<circle cx="449.5" cy="415.6" r="2.05" fill="none" stroke-width="1.1"/>
<circle cx="428.5" cy="393.3" r="2.05" fill="none" stroke-width="1.1"/>
<circle cx="442.5" cy="426.7" r="2.05" fill="none" stroke-width="1.1"/>
<circle cx="437.1" cy="418.3" r="2.05" fill="none" stroke-width="1.1"/>
<circle cx="426.9" cy="411.7" r="2.05" fill="none" stroke-width="1.1"/>
<circle cx="459.7" cy="416.4" r="2.05" fill="none" stroke-width="1.1"/>
<circle cx="461.9" cy="406.2" r="2.05" fill="none" stroke-width="1.1"/>
<circle cx="461.8" cy="421.3" r="2.05" fill="none" stroke-width="1.1"/>
<circle cx="460.4" cy="421.0" r="2.05" fill="none" stroke-width="1.1"/>
<circle cx="458.3" cy="407.1" r="2.05" fill="none" stroke-width="1.1"/>
<circle cx="458.1" cy="398.3" r="2.05" fill="none" stroke-width="1.1"/>
<circle cx="462.9" cy="421.5" r="2.05" fill="none" stroke-width="1.1"/>
<circle cx="455.4" cy="417.3" r="2.05" fill="none" stroke-width="1.1"/>
<circle cx="456.0" cy="420.3" r="2.05" fill="none" stroke-width="1.1"/>
<circle cx="459.9" cy="396.9" r="2.05" fill="none" stroke-width="1.1"/>
<circle cx="456.5" cy="402.7" r="2.05" fill="none" stroke-width="1.1"/>
<circle cx="456.7" cy="413.8" r="2.05" fill="none" stroke-width="1.1"/>
<circle cx="453.7" cy="396.3" r="2.05" fill="none" stroke-width="1.1"/>
<circle cx="459.0" cy="401.9" r="2.05" fill="none" stroke-width="1.1"/>
<circle cx="431.6" cy="372.2" r="2.05" fill="none" stroke-width="1.1"/>
<circle cx="432.4" cy="380.9" r="2.05" fill="none" stroke-width="1.1"/>
<circle cx="441.9" cy="369.7" r="2.05" fill="none" stroke-width="1.1"/>
<circle cx="441.9" cy="386.9" r="2.05" fill="none" stroke-width="1.1"/>
<circle cx="447.6" cy="384.3" r="2.05" fill="none" stroke-width="1.1"/>
<circle cx="415.2" cy="404.1" r="2.05" fill="none" stroke-width="1.1"/>
<circle cx="417.8" cy="411.9" r="2.05" fill="none" stroke-width="1.1"/>
<circle cx="420.3" cy="415.3" r="2.05" fill="none" stroke-width="1.1"/>
<circle cx="416" cy="416.2" r="2.05" fill="none" stroke-width="1.1"/>
<circle cx="445.3" cy="426.6" r="2.05" fill="none" stroke-width="1.1"/>
<circle cx="460" cy="425.7" r="2.05" fill="none" stroke-width="1.1"/>
<circle cx="482.4" cy="389.5" r="2.05" fill="none" stroke-width="1.1"/>
<circle cx="486.7" cy="396.4" r="2.05" fill="none" stroke-width="1.1"/>
<circle cx="487.6" cy="405" r="2.05" fill="none" stroke-width="1.1"/>
</g>
<line x1="391.3" y1="424.7" x2="626.3" y2="336.8" stroke="#f01010" stroke-width="1"/>
</svg>
</body></html>
